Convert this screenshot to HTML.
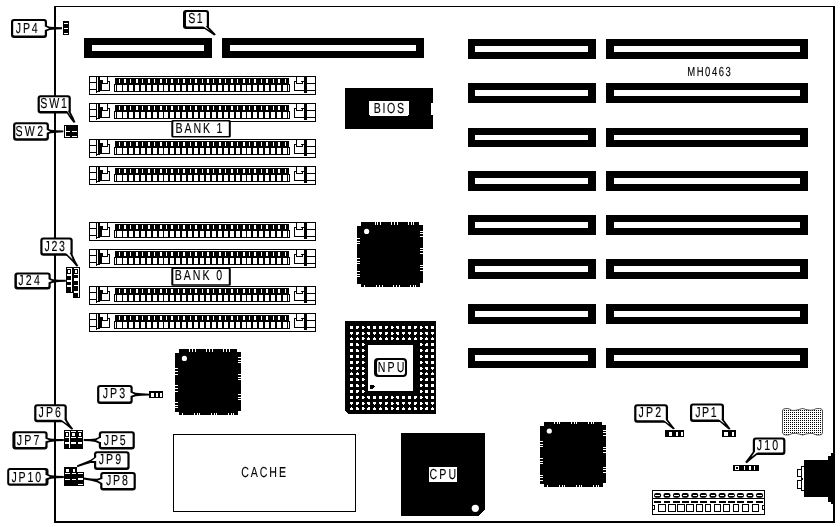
<!DOCTYPE html>
<html lang="en">
<head>
<meta charset="utf-8">
<title>MH0463 motherboard layout</title>
<style>
html,body{margin:0;padding:0;background:#fff;}
body{width:840px;height:527px;overflow:hidden;}
svg{display:block;}
.t{font-family:"Liberation Sans",sans-serif;fill:#000;stroke:#000;stroke-width:0.12px;}
svg{will-change:transform;}
</style>
</head>
<body>
<svg width="840" height="527" viewBox="0 0 840 527" shape-rendering="crispEdges" text-rendering="geometricPrecision">
<defs>
<pattern id="dots" x="0" y="0" width="2" height="2" patternUnits="userSpaceOnUse">
<rect x="0" y="0" width="2" height="2" fill="#fff"/>
<rect x="0" y="0" width="1" height="1" fill="#000"/>
</pattern>
</defs>
<rect x="0" y="0" width="840" height="527" fill="#fff"/>
<rect x="54" y="6" width="781" height="1" fill="#000" />
<rect x="54" y="6" width="2" height="517" fill="#000" />
<rect x="833" y="6" width="2" height="517" fill="#000" />
<rect x="54" y="521" width="781" height="2" fill="#000" />
<rect x="84" y="38" width="128" height="20" fill="#000" />
<rect x="92" y="45" width="112" height="6" fill="#fff" />
<rect x="222" y="38" width="202" height="20" fill="#000" />
<rect x="230" y="45" width="186" height="6" fill="#fff" />
<rect x="468" y="39" width="128" height="20" fill="#000" />
<rect x="475" y="46" width="113" height="6" fill="#fff" />
<rect x="606" y="39" width="202" height="20" fill="#000" />
<rect x="614" y="46" width="186" height="6" fill="#fff" />
<rect x="468" y="83" width="128" height="20" fill="#000" />
<rect x="475" y="90" width="113" height="6" fill="#fff" />
<rect x="606" y="83" width="202" height="20" fill="#000" />
<rect x="614" y="90" width="186" height="6" fill="#fff" />
<rect x="468" y="128" width="128" height="19" fill="#000" />
<rect x="475" y="135" width="113" height="5" fill="#fff" />
<rect x="606" y="128" width="202" height="19" fill="#000" />
<rect x="614" y="135" width="186" height="5" fill="#fff" />
<rect x="468" y="171" width="128" height="20" fill="#000" />
<rect x="475" y="178" width="113" height="6" fill="#fff" />
<rect x="606" y="171" width="202" height="20" fill="#000" />
<rect x="614" y="178" width="186" height="6" fill="#fff" />
<rect x="468" y="215" width="128" height="20" fill="#000" />
<rect x="475" y="222" width="113" height="6" fill="#fff" />
<rect x="606" y="215" width="202" height="20" fill="#000" />
<rect x="614" y="222" width="186" height="6" fill="#fff" />
<rect x="468" y="259" width="128" height="20" fill="#000" />
<rect x="475" y="266" width="113" height="6" fill="#fff" />
<rect x="606" y="259" width="202" height="20" fill="#000" />
<rect x="614" y="266" width="186" height="6" fill="#fff" />
<rect x="468" y="304" width="128" height="20" fill="#000" />
<rect x="475" y="311" width="113" height="6" fill="#fff" />
<rect x="606" y="304" width="202" height="20" fill="#000" />
<rect x="614" y="311" width="186" height="6" fill="#fff" />
<rect x="468" y="348" width="128" height="20" fill="#000" />
<rect x="475" y="355" width="113" height="6" fill="#fff" />
<rect x="606" y="348" width="202" height="20" fill="#000" />
<rect x="614" y="355" width="186" height="6" fill="#fff" />
<rect x="89.5" y="76.5" width="226" height="18" fill="#fff" stroke="#000" stroke-width="1"/>
<rect x="89" y="82" width="7" height="1" fill="#000" />
<rect x="89" y="89" width="7" height="1" fill="#000" />
<rect x="96" y="76" width="1" height="16.5" fill="#000" />
<rect x="98" y="77" width="2" height="15" fill="#000" />
<rect x="100" y="80" width="2" height="11" fill="#000" />
<rect x="96" y="91" width="4" height="1.4" fill="#000" />
<rect x="101" y="80" width="2" height="1" fill="#000" />
<rect x="102" y="81" width="1" height="3" fill="#000" />
<rect x="102" y="83" width="6" height="1" fill="#000" />
<rect x="107" y="77" width="1" height="7" fill="#000" />
<rect x="108" y="81" width="2" height="1" fill="#000" />
<rect x="109" y="81" width="1" height="10" fill="#000" />
<rect x="101" y="90" width="9" height="1" fill="#000" />
<rect x="115" y="78" width="174" height="7" fill="#000" />
<rect x="114" y="84" width="176" height="8" fill="#000" />
<rect x="115" y="85" width="1" height="6" fill="#fff" />
<rect x="117" y="85" width="5" height="6" fill="#fff" />
<rect x="118.5" y="79" width="1" height="4" fill="#fff" />
<rect x="122.93" y="85" width="4" height="6" fill="#fff" />
<rect x="123.93" y="79" width="2" height="4" fill="#fff" />
<rect x="128.86" y="85" width="4" height="6" fill="#fff" />
<rect x="130.36" y="79" width="1" height="4" fill="#fff" />
<rect x="134.79" y="85" width="4" height="6" fill="#fff" />
<rect x="135.79" y="79" width="2" height="4" fill="#fff" />
<rect x="140.72" y="85" width="4" height="6" fill="#fff" />
<rect x="142.22" y="79" width="1" height="4" fill="#fff" />
<rect x="146.65" y="85" width="4" height="6" fill="#fff" />
<rect x="147.65" y="79" width="2" height="4" fill="#fff" />
<rect x="152.58" y="85" width="4" height="6" fill="#fff" />
<rect x="154.08" y="79" width="1" height="4" fill="#fff" />
<rect x="158.51" y="85" width="4" height="6" fill="#fff" />
<rect x="159.51" y="79" width="2" height="4" fill="#fff" />
<rect x="164.44" y="85" width="4" height="6" fill="#fff" />
<rect x="165.94" y="79" width="1" height="4" fill="#fff" />
<rect x="170.37" y="85" width="4" height="6" fill="#fff" />
<rect x="171.37" y="79" width="2" height="4" fill="#fff" />
<rect x="176.3" y="85" width="4" height="6" fill="#fff" />
<rect x="177.8" y="79" width="1" height="4" fill="#fff" />
<rect x="182.23" y="85" width="4" height="6" fill="#fff" />
<rect x="183.23" y="79" width="2" height="4" fill="#fff" />
<rect x="188.16" y="85" width="4" height="6" fill="#fff" />
<rect x="189.66" y="79" width="1" height="4" fill="#fff" />
<rect x="194.09" y="85" width="4" height="6" fill="#fff" />
<rect x="195.09" y="79" width="2" height="4" fill="#fff" />
<rect x="200.02" y="85" width="4" height="6" fill="#fff" />
<rect x="201.52" y="79" width="1" height="4" fill="#fff" />
<rect x="205.95" y="85" width="4" height="6" fill="#fff" />
<rect x="206.95" y="79" width="2" height="4" fill="#fff" />
<rect x="211.88" y="85" width="4" height="6" fill="#fff" />
<rect x="213.38" y="79" width="1" height="4" fill="#fff" />
<rect x="217.81" y="85" width="4" height="6" fill="#fff" />
<rect x="218.81" y="79" width="2" height="4" fill="#fff" />
<rect x="223.74" y="85" width="4" height="6" fill="#fff" />
<rect x="225.24" y="79" width="1" height="4" fill="#fff" />
<rect x="229.67" y="85" width="4" height="6" fill="#fff" />
<rect x="230.67" y="79" width="2" height="4" fill="#fff" />
<rect x="235.6" y="85" width="4" height="6" fill="#fff" />
<rect x="237.1" y="79" width="1" height="4" fill="#fff" />
<rect x="241.53" y="85" width="4" height="6" fill="#fff" />
<rect x="242.53" y="79" width="2" height="4" fill="#fff" />
<rect x="247.46" y="85" width="4" height="6" fill="#fff" />
<rect x="248.96" y="79" width="1" height="4" fill="#fff" />
<rect x="253.39" y="85" width="4" height="6" fill="#fff" />
<rect x="254.39" y="79" width="2" height="4" fill="#fff" />
<rect x="259.32" y="85" width="4" height="6" fill="#fff" />
<rect x="260.82" y="79" width="1" height="4" fill="#fff" />
<rect x="265.25" y="85" width="4" height="6" fill="#fff" />
<rect x="266.25" y="79" width="2" height="4" fill="#fff" />
<rect x="271.18" y="85" width="4" height="6" fill="#fff" />
<rect x="272.68" y="79" width="1" height="4" fill="#fff" />
<rect x="277.11" y="85" width="4" height="6" fill="#fff" />
<rect x="278.11" y="79" width="2" height="4" fill="#fff" />
<rect x="283.04" y="85" width="4" height="6" fill="#fff" />
<rect x="284.54" y="79" width="1" height="4" fill="#fff" />
<rect x="288" y="85" width="1" height="6" fill="#fff" />
<rect x="304" y="77" width="3" height="16" fill="#000" />
<rect x="294" y="81" width="1" height="10" fill="#000" />
<rect x="294" y="81" width="3" height="1" fill="#000" />
<rect x="296" y="77" width="1" height="7" fill="#000" />
<rect x="296" y="83" width="7" height="1" fill="#000" />
<rect x="302" y="81" width="1" height="3" fill="#000" />
<rect x="301" y="81" width="3" height="1" fill="#000" />
<rect x="294" y="90" width="10" height="1" fill="#000" />
<rect x="307" y="83" width="9" height="1" fill="#000" />
<rect x="307" y="90" width="9" height="1" fill="#000" />
<rect x="89.5" y="103.5" width="226" height="18" fill="#fff" stroke="#000" stroke-width="1"/>
<rect x="89" y="109" width="7" height="1" fill="#000" />
<rect x="89" y="116" width="7" height="1" fill="#000" />
<rect x="96" y="103" width="1" height="16.5" fill="#000" />
<rect x="98" y="104" width="2" height="15" fill="#000" />
<rect x="100" y="107" width="2" height="11" fill="#000" />
<rect x="96" y="118" width="4" height="1.4" fill="#000" />
<rect x="101" y="107" width="2" height="1" fill="#000" />
<rect x="102" y="108" width="1" height="3" fill="#000" />
<rect x="102" y="110" width="6" height="1" fill="#000" />
<rect x="107" y="104" width="1" height="7" fill="#000" />
<rect x="108" y="108" width="2" height="1" fill="#000" />
<rect x="109" y="108" width="1" height="10" fill="#000" />
<rect x="101" y="117" width="9" height="1" fill="#000" />
<rect x="115" y="105" width="174" height="7" fill="#000" />
<rect x="114" y="111" width="176" height="8" fill="#000" />
<rect x="115" y="112" width="1" height="6" fill="#fff" />
<rect x="117" y="112" width="5" height="6" fill="#fff" />
<rect x="118.5" y="106" width="1" height="4" fill="#fff" />
<rect x="122.93" y="112" width="4" height="6" fill="#fff" />
<rect x="123.93" y="106" width="2" height="4" fill="#fff" />
<rect x="128.86" y="112" width="4" height="6" fill="#fff" />
<rect x="130.36" y="106" width="1" height="4" fill="#fff" />
<rect x="134.79" y="112" width="4" height="6" fill="#fff" />
<rect x="135.79" y="106" width="2" height="4" fill="#fff" />
<rect x="140.72" y="112" width="4" height="6" fill="#fff" />
<rect x="142.22" y="106" width="1" height="4" fill="#fff" />
<rect x="146.65" y="112" width="4" height="6" fill="#fff" />
<rect x="147.65" y="106" width="2" height="4" fill="#fff" />
<rect x="152.58" y="112" width="4" height="6" fill="#fff" />
<rect x="154.08" y="106" width="1" height="4" fill="#fff" />
<rect x="158.51" y="112" width="4" height="6" fill="#fff" />
<rect x="159.51" y="106" width="2" height="4" fill="#fff" />
<rect x="164.44" y="112" width="4" height="6" fill="#fff" />
<rect x="165.94" y="106" width="1" height="4" fill="#fff" />
<rect x="170.37" y="112" width="4" height="6" fill="#fff" />
<rect x="171.37" y="106" width="2" height="4" fill="#fff" />
<rect x="176.3" y="112" width="4" height="6" fill="#fff" />
<rect x="177.8" y="106" width="1" height="4" fill="#fff" />
<rect x="182.23" y="112" width="4" height="6" fill="#fff" />
<rect x="183.23" y="106" width="2" height="4" fill="#fff" />
<rect x="188.16" y="112" width="4" height="6" fill="#fff" />
<rect x="189.66" y="106" width="1" height="4" fill="#fff" />
<rect x="194.09" y="112" width="4" height="6" fill="#fff" />
<rect x="195.09" y="106" width="2" height="4" fill="#fff" />
<rect x="200.02" y="112" width="4" height="6" fill="#fff" />
<rect x="201.52" y="106" width="1" height="4" fill="#fff" />
<rect x="205.95" y="112" width="4" height="6" fill="#fff" />
<rect x="206.95" y="106" width="2" height="4" fill="#fff" />
<rect x="211.88" y="112" width="4" height="6" fill="#fff" />
<rect x="213.38" y="106" width="1" height="4" fill="#fff" />
<rect x="217.81" y="112" width="4" height="6" fill="#fff" />
<rect x="218.81" y="106" width="2" height="4" fill="#fff" />
<rect x="223.74" y="112" width="4" height="6" fill="#fff" />
<rect x="225.24" y="106" width="1" height="4" fill="#fff" />
<rect x="229.67" y="112" width="4" height="6" fill="#fff" />
<rect x="230.67" y="106" width="2" height="4" fill="#fff" />
<rect x="235.6" y="112" width="4" height="6" fill="#fff" />
<rect x="237.1" y="106" width="1" height="4" fill="#fff" />
<rect x="241.53" y="112" width="4" height="6" fill="#fff" />
<rect x="242.53" y="106" width="2" height="4" fill="#fff" />
<rect x="247.46" y="112" width="4" height="6" fill="#fff" />
<rect x="248.96" y="106" width="1" height="4" fill="#fff" />
<rect x="253.39" y="112" width="4" height="6" fill="#fff" />
<rect x="254.39" y="106" width="2" height="4" fill="#fff" />
<rect x="259.32" y="112" width="4" height="6" fill="#fff" />
<rect x="260.82" y="106" width="1" height="4" fill="#fff" />
<rect x="265.25" y="112" width="4" height="6" fill="#fff" />
<rect x="266.25" y="106" width="2" height="4" fill="#fff" />
<rect x="271.18" y="112" width="4" height="6" fill="#fff" />
<rect x="272.68" y="106" width="1" height="4" fill="#fff" />
<rect x="277.11" y="112" width="4" height="6" fill="#fff" />
<rect x="278.11" y="106" width="2" height="4" fill="#fff" />
<rect x="283.04" y="112" width="4" height="6" fill="#fff" />
<rect x="284.54" y="106" width="1" height="4" fill="#fff" />
<rect x="288" y="112" width="1" height="6" fill="#fff" />
<rect x="304" y="104" width="3" height="16" fill="#000" />
<rect x="294" y="108" width="1" height="10" fill="#000" />
<rect x="294" y="108" width="3" height="1" fill="#000" />
<rect x="296" y="104" width="1" height="7" fill="#000" />
<rect x="296" y="110" width="7" height="1" fill="#000" />
<rect x="302" y="108" width="1" height="3" fill="#000" />
<rect x="301" y="108" width="3" height="1" fill="#000" />
<rect x="294" y="117" width="10" height="1" fill="#000" />
<rect x="307" y="110" width="9" height="1" fill="#000" />
<rect x="307" y="117" width="9" height="1" fill="#000" />
<rect x="89.5" y="139.5" width="226" height="18" fill="#fff" stroke="#000" stroke-width="1"/>
<rect x="89" y="145" width="7" height="1" fill="#000" />
<rect x="89" y="152" width="7" height="1" fill="#000" />
<rect x="96" y="139" width="1" height="16.5" fill="#000" />
<rect x="98" y="140" width="2" height="15" fill="#000" />
<rect x="100" y="143" width="2" height="11" fill="#000" />
<rect x="96" y="154" width="4" height="1.4" fill="#000" />
<rect x="101" y="143" width="2" height="1" fill="#000" />
<rect x="102" y="144" width="1" height="3" fill="#000" />
<rect x="102" y="146" width="6" height="1" fill="#000" />
<rect x="107" y="140" width="1" height="7" fill="#000" />
<rect x="108" y="144" width="2" height="1" fill="#000" />
<rect x="109" y="144" width="1" height="10" fill="#000" />
<rect x="101" y="153" width="9" height="1" fill="#000" />
<rect x="115" y="141" width="174" height="7" fill="#000" />
<rect x="114" y="147" width="176" height="8" fill="#000" />
<rect x="115" y="148" width="1" height="6" fill="#fff" />
<rect x="117" y="148" width="5" height="6" fill="#fff" />
<rect x="118.5" y="142" width="1" height="4" fill="#fff" />
<rect x="122.93" y="148" width="4" height="6" fill="#fff" />
<rect x="123.93" y="142" width="2" height="4" fill="#fff" />
<rect x="128.86" y="148" width="4" height="6" fill="#fff" />
<rect x="130.36" y="142" width="1" height="4" fill="#fff" />
<rect x="134.79" y="148" width="4" height="6" fill="#fff" />
<rect x="135.79" y="142" width="2" height="4" fill="#fff" />
<rect x="140.72" y="148" width="4" height="6" fill="#fff" />
<rect x="142.22" y="142" width="1" height="4" fill="#fff" />
<rect x="146.65" y="148" width="4" height="6" fill="#fff" />
<rect x="147.65" y="142" width="2" height="4" fill="#fff" />
<rect x="152.58" y="148" width="4" height="6" fill="#fff" />
<rect x="154.08" y="142" width="1" height="4" fill="#fff" />
<rect x="158.51" y="148" width="4" height="6" fill="#fff" />
<rect x="159.51" y="142" width="2" height="4" fill="#fff" />
<rect x="164.44" y="148" width="4" height="6" fill="#fff" />
<rect x="165.94" y="142" width="1" height="4" fill="#fff" />
<rect x="170.37" y="148" width="4" height="6" fill="#fff" />
<rect x="171.37" y="142" width="2" height="4" fill="#fff" />
<rect x="176.3" y="148" width="4" height="6" fill="#fff" />
<rect x="177.8" y="142" width="1" height="4" fill="#fff" />
<rect x="182.23" y="148" width="4" height="6" fill="#fff" />
<rect x="183.23" y="142" width="2" height="4" fill="#fff" />
<rect x="188.16" y="148" width="4" height="6" fill="#fff" />
<rect x="189.66" y="142" width="1" height="4" fill="#fff" />
<rect x="194.09" y="148" width="4" height="6" fill="#fff" />
<rect x="195.09" y="142" width="2" height="4" fill="#fff" />
<rect x="200.02" y="148" width="4" height="6" fill="#fff" />
<rect x="201.52" y="142" width="1" height="4" fill="#fff" />
<rect x="205.95" y="148" width="4" height="6" fill="#fff" />
<rect x="206.95" y="142" width="2" height="4" fill="#fff" />
<rect x="211.88" y="148" width="4" height="6" fill="#fff" />
<rect x="213.38" y="142" width="1" height="4" fill="#fff" />
<rect x="217.81" y="148" width="4" height="6" fill="#fff" />
<rect x="218.81" y="142" width="2" height="4" fill="#fff" />
<rect x="223.74" y="148" width="4" height="6" fill="#fff" />
<rect x="225.24" y="142" width="1" height="4" fill="#fff" />
<rect x="229.67" y="148" width="4" height="6" fill="#fff" />
<rect x="230.67" y="142" width="2" height="4" fill="#fff" />
<rect x="235.6" y="148" width="4" height="6" fill="#fff" />
<rect x="237.1" y="142" width="1" height="4" fill="#fff" />
<rect x="241.53" y="148" width="4" height="6" fill="#fff" />
<rect x="242.53" y="142" width="2" height="4" fill="#fff" />
<rect x="247.46" y="148" width="4" height="6" fill="#fff" />
<rect x="248.96" y="142" width="1" height="4" fill="#fff" />
<rect x="253.39" y="148" width="4" height="6" fill="#fff" />
<rect x="254.39" y="142" width="2" height="4" fill="#fff" />
<rect x="259.32" y="148" width="4" height="6" fill="#fff" />
<rect x="260.82" y="142" width="1" height="4" fill="#fff" />
<rect x="265.25" y="148" width="4" height="6" fill="#fff" />
<rect x="266.25" y="142" width="2" height="4" fill="#fff" />
<rect x="271.18" y="148" width="4" height="6" fill="#fff" />
<rect x="272.68" y="142" width="1" height="4" fill="#fff" />
<rect x="277.11" y="148" width="4" height="6" fill="#fff" />
<rect x="278.11" y="142" width="2" height="4" fill="#fff" />
<rect x="283.04" y="148" width="4" height="6" fill="#fff" />
<rect x="284.54" y="142" width="1" height="4" fill="#fff" />
<rect x="288" y="148" width="1" height="6" fill="#fff" />
<rect x="304" y="140" width="3" height="16" fill="#000" />
<rect x="294" y="144" width="1" height="10" fill="#000" />
<rect x="294" y="144" width="3" height="1" fill="#000" />
<rect x="296" y="140" width="1" height="7" fill="#000" />
<rect x="296" y="146" width="7" height="1" fill="#000" />
<rect x="302" y="144" width="1" height="3" fill="#000" />
<rect x="301" y="144" width="3" height="1" fill="#000" />
<rect x="294" y="153" width="10" height="1" fill="#000" />
<rect x="307" y="146" width="9" height="1" fill="#000" />
<rect x="307" y="153" width="9" height="1" fill="#000" />
<rect x="89.5" y="166.5" width="226" height="18" fill="#fff" stroke="#000" stroke-width="1"/>
<rect x="89" y="172" width="7" height="1" fill="#000" />
<rect x="89" y="179" width="7" height="1" fill="#000" />
<rect x="96" y="166" width="1" height="16.5" fill="#000" />
<rect x="98" y="167" width="2" height="15" fill="#000" />
<rect x="100" y="170" width="2" height="11" fill="#000" />
<rect x="96" y="181" width="4" height="1.4" fill="#000" />
<rect x="101" y="170" width="2" height="1" fill="#000" />
<rect x="102" y="171" width="1" height="3" fill="#000" />
<rect x="102" y="173" width="6" height="1" fill="#000" />
<rect x="107" y="167" width="1" height="7" fill="#000" />
<rect x="108" y="171" width="2" height="1" fill="#000" />
<rect x="109" y="171" width="1" height="10" fill="#000" />
<rect x="101" y="180" width="9" height="1" fill="#000" />
<rect x="115" y="168" width="174" height="7" fill="#000" />
<rect x="114" y="174" width="176" height="8" fill="#000" />
<rect x="115" y="175" width="1" height="6" fill="#fff" />
<rect x="117" y="175" width="5" height="6" fill="#fff" />
<rect x="118.5" y="169" width="1" height="4" fill="#fff" />
<rect x="122.93" y="175" width="4" height="6" fill="#fff" />
<rect x="123.93" y="169" width="2" height="4" fill="#fff" />
<rect x="128.86" y="175" width="4" height="6" fill="#fff" />
<rect x="130.36" y="169" width="1" height="4" fill="#fff" />
<rect x="134.79" y="175" width="4" height="6" fill="#fff" />
<rect x="135.79" y="169" width="2" height="4" fill="#fff" />
<rect x="140.72" y="175" width="4" height="6" fill="#fff" />
<rect x="142.22" y="169" width="1" height="4" fill="#fff" />
<rect x="146.65" y="175" width="4" height="6" fill="#fff" />
<rect x="147.65" y="169" width="2" height="4" fill="#fff" />
<rect x="152.58" y="175" width="4" height="6" fill="#fff" />
<rect x="154.08" y="169" width="1" height="4" fill="#fff" />
<rect x="158.51" y="175" width="4" height="6" fill="#fff" />
<rect x="159.51" y="169" width="2" height="4" fill="#fff" />
<rect x="164.44" y="175" width="4" height="6" fill="#fff" />
<rect x="165.94" y="169" width="1" height="4" fill="#fff" />
<rect x="170.37" y="175" width="4" height="6" fill="#fff" />
<rect x="171.37" y="169" width="2" height="4" fill="#fff" />
<rect x="176.3" y="175" width="4" height="6" fill="#fff" />
<rect x="177.8" y="169" width="1" height="4" fill="#fff" />
<rect x="182.23" y="175" width="4" height="6" fill="#fff" />
<rect x="183.23" y="169" width="2" height="4" fill="#fff" />
<rect x="188.16" y="175" width="4" height="6" fill="#fff" />
<rect x="189.66" y="169" width="1" height="4" fill="#fff" />
<rect x="194.09" y="175" width="4" height="6" fill="#fff" />
<rect x="195.09" y="169" width="2" height="4" fill="#fff" />
<rect x="200.02" y="175" width="4" height="6" fill="#fff" />
<rect x="201.52" y="169" width="1" height="4" fill="#fff" />
<rect x="205.95" y="175" width="4" height="6" fill="#fff" />
<rect x="206.95" y="169" width="2" height="4" fill="#fff" />
<rect x="211.88" y="175" width="4" height="6" fill="#fff" />
<rect x="213.38" y="169" width="1" height="4" fill="#fff" />
<rect x="217.81" y="175" width="4" height="6" fill="#fff" />
<rect x="218.81" y="169" width="2" height="4" fill="#fff" />
<rect x="223.74" y="175" width="4" height="6" fill="#fff" />
<rect x="225.24" y="169" width="1" height="4" fill="#fff" />
<rect x="229.67" y="175" width="4" height="6" fill="#fff" />
<rect x="230.67" y="169" width="2" height="4" fill="#fff" />
<rect x="235.6" y="175" width="4" height="6" fill="#fff" />
<rect x="237.1" y="169" width="1" height="4" fill="#fff" />
<rect x="241.53" y="175" width="4" height="6" fill="#fff" />
<rect x="242.53" y="169" width="2" height="4" fill="#fff" />
<rect x="247.46" y="175" width="4" height="6" fill="#fff" />
<rect x="248.96" y="169" width="1" height="4" fill="#fff" />
<rect x="253.39" y="175" width="4" height="6" fill="#fff" />
<rect x="254.39" y="169" width="2" height="4" fill="#fff" />
<rect x="259.32" y="175" width="4" height="6" fill="#fff" />
<rect x="260.82" y="169" width="1" height="4" fill="#fff" />
<rect x="265.25" y="175" width="4" height="6" fill="#fff" />
<rect x="266.25" y="169" width="2" height="4" fill="#fff" />
<rect x="271.18" y="175" width="4" height="6" fill="#fff" />
<rect x="272.68" y="169" width="1" height="4" fill="#fff" />
<rect x="277.11" y="175" width="4" height="6" fill="#fff" />
<rect x="278.11" y="169" width="2" height="4" fill="#fff" />
<rect x="283.04" y="175" width="4" height="6" fill="#fff" />
<rect x="284.54" y="169" width="1" height="4" fill="#fff" />
<rect x="288" y="175" width="1" height="6" fill="#fff" />
<rect x="304" y="167" width="3" height="16" fill="#000" />
<rect x="294" y="171" width="1" height="10" fill="#000" />
<rect x="294" y="171" width="3" height="1" fill="#000" />
<rect x="296" y="167" width="1" height="7" fill="#000" />
<rect x="296" y="173" width="7" height="1" fill="#000" />
<rect x="302" y="171" width="1" height="3" fill="#000" />
<rect x="301" y="171" width="3" height="1" fill="#000" />
<rect x="294" y="180" width="10" height="1" fill="#000" />
<rect x="307" y="173" width="9" height="1" fill="#000" />
<rect x="307" y="180" width="9" height="1" fill="#000" />
<rect x="89.5" y="222.5" width="226" height="18" fill="#fff" stroke="#000" stroke-width="1"/>
<rect x="89" y="228" width="7" height="1" fill="#000" />
<rect x="89" y="235" width="7" height="1" fill="#000" />
<rect x="96" y="222" width="1" height="16.5" fill="#000" />
<rect x="98" y="223" width="2" height="15" fill="#000" />
<rect x="100" y="226" width="2" height="11" fill="#000" />
<rect x="96" y="237" width="4" height="1.4" fill="#000" />
<rect x="101" y="226" width="2" height="1" fill="#000" />
<rect x="102" y="227" width="1" height="3" fill="#000" />
<rect x="102" y="229" width="6" height="1" fill="#000" />
<rect x="107" y="223" width="1" height="7" fill="#000" />
<rect x="108" y="227" width="2" height="1" fill="#000" />
<rect x="109" y="227" width="1" height="10" fill="#000" />
<rect x="101" y="236" width="9" height="1" fill="#000" />
<rect x="115" y="224" width="174" height="7" fill="#000" />
<rect x="114" y="230" width="176" height="8" fill="#000" />
<rect x="115" y="231" width="1" height="6" fill="#fff" />
<rect x="117" y="231" width="5" height="6" fill="#fff" />
<rect x="118.5" y="225" width="1" height="4" fill="#fff" />
<rect x="122.93" y="231" width="4" height="6" fill="#fff" />
<rect x="123.93" y="225" width="2" height="4" fill="#fff" />
<rect x="128.86" y="231" width="4" height="6" fill="#fff" />
<rect x="130.36" y="225" width="1" height="4" fill="#fff" />
<rect x="134.79" y="231" width="4" height="6" fill="#fff" />
<rect x="135.79" y="225" width="2" height="4" fill="#fff" />
<rect x="140.72" y="231" width="4" height="6" fill="#fff" />
<rect x="142.22" y="225" width="1" height="4" fill="#fff" />
<rect x="146.65" y="231" width="4" height="6" fill="#fff" />
<rect x="147.65" y="225" width="2" height="4" fill="#fff" />
<rect x="152.58" y="231" width="4" height="6" fill="#fff" />
<rect x="154.08" y="225" width="1" height="4" fill="#fff" />
<rect x="158.51" y="231" width="4" height="6" fill="#fff" />
<rect x="159.51" y="225" width="2" height="4" fill="#fff" />
<rect x="164.44" y="231" width="4" height="6" fill="#fff" />
<rect x="165.94" y="225" width="1" height="4" fill="#fff" />
<rect x="170.37" y="231" width="4" height="6" fill="#fff" />
<rect x="171.37" y="225" width="2" height="4" fill="#fff" />
<rect x="176.3" y="231" width="4" height="6" fill="#fff" />
<rect x="177.8" y="225" width="1" height="4" fill="#fff" />
<rect x="182.23" y="231" width="4" height="6" fill="#fff" />
<rect x="183.23" y="225" width="2" height="4" fill="#fff" />
<rect x="188.16" y="231" width="4" height="6" fill="#fff" />
<rect x="189.66" y="225" width="1" height="4" fill="#fff" />
<rect x="194.09" y="231" width="4" height="6" fill="#fff" />
<rect x="195.09" y="225" width="2" height="4" fill="#fff" />
<rect x="200.02" y="231" width="4" height="6" fill="#fff" />
<rect x="201.52" y="225" width="1" height="4" fill="#fff" />
<rect x="205.95" y="231" width="4" height="6" fill="#fff" />
<rect x="206.95" y="225" width="2" height="4" fill="#fff" />
<rect x="211.88" y="231" width="4" height="6" fill="#fff" />
<rect x="213.38" y="225" width="1" height="4" fill="#fff" />
<rect x="217.81" y="231" width="4" height="6" fill="#fff" />
<rect x="218.81" y="225" width="2" height="4" fill="#fff" />
<rect x="223.74" y="231" width="4" height="6" fill="#fff" />
<rect x="225.24" y="225" width="1" height="4" fill="#fff" />
<rect x="229.67" y="231" width="4" height="6" fill="#fff" />
<rect x="230.67" y="225" width="2" height="4" fill="#fff" />
<rect x="235.6" y="231" width="4" height="6" fill="#fff" />
<rect x="237.1" y="225" width="1" height="4" fill="#fff" />
<rect x="241.53" y="231" width="4" height="6" fill="#fff" />
<rect x="242.53" y="225" width="2" height="4" fill="#fff" />
<rect x="247.46" y="231" width="4" height="6" fill="#fff" />
<rect x="248.96" y="225" width="1" height="4" fill="#fff" />
<rect x="253.39" y="231" width="4" height="6" fill="#fff" />
<rect x="254.39" y="225" width="2" height="4" fill="#fff" />
<rect x="259.32" y="231" width="4" height="6" fill="#fff" />
<rect x="260.82" y="225" width="1" height="4" fill="#fff" />
<rect x="265.25" y="231" width="4" height="6" fill="#fff" />
<rect x="266.25" y="225" width="2" height="4" fill="#fff" />
<rect x="271.18" y="231" width="4" height="6" fill="#fff" />
<rect x="272.68" y="225" width="1" height="4" fill="#fff" />
<rect x="277.11" y="231" width="4" height="6" fill="#fff" />
<rect x="278.11" y="225" width="2" height="4" fill="#fff" />
<rect x="283.04" y="231" width="4" height="6" fill="#fff" />
<rect x="284.54" y="225" width="1" height="4" fill="#fff" />
<rect x="288" y="231" width="1" height="6" fill="#fff" />
<rect x="304" y="223" width="3" height="16" fill="#000" />
<rect x="294" y="227" width="1" height="10" fill="#000" />
<rect x="294" y="227" width="3" height="1" fill="#000" />
<rect x="296" y="223" width="1" height="7" fill="#000" />
<rect x="296" y="229" width="7" height="1" fill="#000" />
<rect x="302" y="227" width="1" height="3" fill="#000" />
<rect x="301" y="227" width="3" height="1" fill="#000" />
<rect x="294" y="236" width="10" height="1" fill="#000" />
<rect x="307" y="229" width="9" height="1" fill="#000" />
<rect x="307" y="236" width="9" height="1" fill="#000" />
<rect x="89.5" y="249.5" width="226" height="18" fill="#fff" stroke="#000" stroke-width="1"/>
<rect x="89" y="255" width="7" height="1" fill="#000" />
<rect x="89" y="262" width="7" height="1" fill="#000" />
<rect x="96" y="249" width="1" height="16.5" fill="#000" />
<rect x="98" y="250" width="2" height="15" fill="#000" />
<rect x="100" y="253" width="2" height="11" fill="#000" />
<rect x="96" y="264" width="4" height="1.4" fill="#000" />
<rect x="101" y="253" width="2" height="1" fill="#000" />
<rect x="102" y="254" width="1" height="3" fill="#000" />
<rect x="102" y="256" width="6" height="1" fill="#000" />
<rect x="107" y="250" width="1" height="7" fill="#000" />
<rect x="108" y="254" width="2" height="1" fill="#000" />
<rect x="109" y="254" width="1" height="10" fill="#000" />
<rect x="101" y="263" width="9" height="1" fill="#000" />
<rect x="115" y="251" width="174" height="7" fill="#000" />
<rect x="114" y="257" width="176" height="8" fill="#000" />
<rect x="115" y="258" width="1" height="6" fill="#fff" />
<rect x="117" y="258" width="5" height="6" fill="#fff" />
<rect x="118.5" y="252" width="1" height="4" fill="#fff" />
<rect x="122.93" y="258" width="4" height="6" fill="#fff" />
<rect x="123.93" y="252" width="2" height="4" fill="#fff" />
<rect x="128.86" y="258" width="4" height="6" fill="#fff" />
<rect x="130.36" y="252" width="1" height="4" fill="#fff" />
<rect x="134.79" y="258" width="4" height="6" fill="#fff" />
<rect x="135.79" y="252" width="2" height="4" fill="#fff" />
<rect x="140.72" y="258" width="4" height="6" fill="#fff" />
<rect x="142.22" y="252" width="1" height="4" fill="#fff" />
<rect x="146.65" y="258" width="4" height="6" fill="#fff" />
<rect x="147.65" y="252" width="2" height="4" fill="#fff" />
<rect x="152.58" y="258" width="4" height="6" fill="#fff" />
<rect x="154.08" y="252" width="1" height="4" fill="#fff" />
<rect x="158.51" y="258" width="4" height="6" fill="#fff" />
<rect x="159.51" y="252" width="2" height="4" fill="#fff" />
<rect x="164.44" y="258" width="4" height="6" fill="#fff" />
<rect x="165.94" y="252" width="1" height="4" fill="#fff" />
<rect x="170.37" y="258" width="4" height="6" fill="#fff" />
<rect x="171.37" y="252" width="2" height="4" fill="#fff" />
<rect x="176.3" y="258" width="4" height="6" fill="#fff" />
<rect x="177.8" y="252" width="1" height="4" fill="#fff" />
<rect x="182.23" y="258" width="4" height="6" fill="#fff" />
<rect x="183.23" y="252" width="2" height="4" fill="#fff" />
<rect x="188.16" y="258" width="4" height="6" fill="#fff" />
<rect x="189.66" y="252" width="1" height="4" fill="#fff" />
<rect x="194.09" y="258" width="4" height="6" fill="#fff" />
<rect x="195.09" y="252" width="2" height="4" fill="#fff" />
<rect x="200.02" y="258" width="4" height="6" fill="#fff" />
<rect x="201.52" y="252" width="1" height="4" fill="#fff" />
<rect x="205.95" y="258" width="4" height="6" fill="#fff" />
<rect x="206.95" y="252" width="2" height="4" fill="#fff" />
<rect x="211.88" y="258" width="4" height="6" fill="#fff" />
<rect x="213.38" y="252" width="1" height="4" fill="#fff" />
<rect x="217.81" y="258" width="4" height="6" fill="#fff" />
<rect x="218.81" y="252" width="2" height="4" fill="#fff" />
<rect x="223.74" y="258" width="4" height="6" fill="#fff" />
<rect x="225.24" y="252" width="1" height="4" fill="#fff" />
<rect x="229.67" y="258" width="4" height="6" fill="#fff" />
<rect x="230.67" y="252" width="2" height="4" fill="#fff" />
<rect x="235.6" y="258" width="4" height="6" fill="#fff" />
<rect x="237.1" y="252" width="1" height="4" fill="#fff" />
<rect x="241.53" y="258" width="4" height="6" fill="#fff" />
<rect x="242.53" y="252" width="2" height="4" fill="#fff" />
<rect x="247.46" y="258" width="4" height="6" fill="#fff" />
<rect x="248.96" y="252" width="1" height="4" fill="#fff" />
<rect x="253.39" y="258" width="4" height="6" fill="#fff" />
<rect x="254.39" y="252" width="2" height="4" fill="#fff" />
<rect x="259.32" y="258" width="4" height="6" fill="#fff" />
<rect x="260.82" y="252" width="1" height="4" fill="#fff" />
<rect x="265.25" y="258" width="4" height="6" fill="#fff" />
<rect x="266.25" y="252" width="2" height="4" fill="#fff" />
<rect x="271.18" y="258" width="4" height="6" fill="#fff" />
<rect x="272.68" y="252" width="1" height="4" fill="#fff" />
<rect x="277.11" y="258" width="4" height="6" fill="#fff" />
<rect x="278.11" y="252" width="2" height="4" fill="#fff" />
<rect x="283.04" y="258" width="4" height="6" fill="#fff" />
<rect x="284.54" y="252" width="1" height="4" fill="#fff" />
<rect x="288" y="258" width="1" height="6" fill="#fff" />
<rect x="304" y="250" width="3" height="16" fill="#000" />
<rect x="294" y="254" width="1" height="10" fill="#000" />
<rect x="294" y="254" width="3" height="1" fill="#000" />
<rect x="296" y="250" width="1" height="7" fill="#000" />
<rect x="296" y="256" width="7" height="1" fill="#000" />
<rect x="302" y="254" width="1" height="3" fill="#000" />
<rect x="301" y="254" width="3" height="1" fill="#000" />
<rect x="294" y="263" width="10" height="1" fill="#000" />
<rect x="307" y="256" width="9" height="1" fill="#000" />
<rect x="307" y="263" width="9" height="1" fill="#000" />
<rect x="89.5" y="286.5" width="226" height="18" fill="#fff" stroke="#000" stroke-width="1"/>
<rect x="89" y="292" width="7" height="1" fill="#000" />
<rect x="89" y="299" width="7" height="1" fill="#000" />
<rect x="96" y="286" width="1" height="16.5" fill="#000" />
<rect x="98" y="287" width="2" height="15" fill="#000" />
<rect x="100" y="290" width="2" height="11" fill="#000" />
<rect x="96" y="301" width="4" height="1.4" fill="#000" />
<rect x="101" y="290" width="2" height="1" fill="#000" />
<rect x="102" y="291" width="1" height="3" fill="#000" />
<rect x="102" y="293" width="6" height="1" fill="#000" />
<rect x="107" y="287" width="1" height="7" fill="#000" />
<rect x="108" y="291" width="2" height="1" fill="#000" />
<rect x="109" y="291" width="1" height="10" fill="#000" />
<rect x="101" y="300" width="9" height="1" fill="#000" />
<rect x="115" y="288" width="174" height="7" fill="#000" />
<rect x="114" y="294" width="176" height="8" fill="#000" />
<rect x="115" y="295" width="1" height="6" fill="#fff" />
<rect x="117" y="295" width="5" height="6" fill="#fff" />
<rect x="118.5" y="289" width="1" height="4" fill="#fff" />
<rect x="122.93" y="295" width="4" height="6" fill="#fff" />
<rect x="123.93" y="289" width="2" height="4" fill="#fff" />
<rect x="128.86" y="295" width="4" height="6" fill="#fff" />
<rect x="130.36" y="289" width="1" height="4" fill="#fff" />
<rect x="134.79" y="295" width="4" height="6" fill="#fff" />
<rect x="135.79" y="289" width="2" height="4" fill="#fff" />
<rect x="140.72" y="295" width="4" height="6" fill="#fff" />
<rect x="142.22" y="289" width="1" height="4" fill="#fff" />
<rect x="146.65" y="295" width="4" height="6" fill="#fff" />
<rect x="147.65" y="289" width="2" height="4" fill="#fff" />
<rect x="152.58" y="295" width="4" height="6" fill="#fff" />
<rect x="154.08" y="289" width="1" height="4" fill="#fff" />
<rect x="158.51" y="295" width="4" height="6" fill="#fff" />
<rect x="159.51" y="289" width="2" height="4" fill="#fff" />
<rect x="164.44" y="295" width="4" height="6" fill="#fff" />
<rect x="165.94" y="289" width="1" height="4" fill="#fff" />
<rect x="170.37" y="295" width="4" height="6" fill="#fff" />
<rect x="171.37" y="289" width="2" height="4" fill="#fff" />
<rect x="176.3" y="295" width="4" height="6" fill="#fff" />
<rect x="177.8" y="289" width="1" height="4" fill="#fff" />
<rect x="182.23" y="295" width="4" height="6" fill="#fff" />
<rect x="183.23" y="289" width="2" height="4" fill="#fff" />
<rect x="188.16" y="295" width="4" height="6" fill="#fff" />
<rect x="189.66" y="289" width="1" height="4" fill="#fff" />
<rect x="194.09" y="295" width="4" height="6" fill="#fff" />
<rect x="195.09" y="289" width="2" height="4" fill="#fff" />
<rect x="200.02" y="295" width="4" height="6" fill="#fff" />
<rect x="201.52" y="289" width="1" height="4" fill="#fff" />
<rect x="205.95" y="295" width="4" height="6" fill="#fff" />
<rect x="206.95" y="289" width="2" height="4" fill="#fff" />
<rect x="211.88" y="295" width="4" height="6" fill="#fff" />
<rect x="213.38" y="289" width="1" height="4" fill="#fff" />
<rect x="217.81" y="295" width="4" height="6" fill="#fff" />
<rect x="218.81" y="289" width="2" height="4" fill="#fff" />
<rect x="223.74" y="295" width="4" height="6" fill="#fff" />
<rect x="225.24" y="289" width="1" height="4" fill="#fff" />
<rect x="229.67" y="295" width="4" height="6" fill="#fff" />
<rect x="230.67" y="289" width="2" height="4" fill="#fff" />
<rect x="235.6" y="295" width="4" height="6" fill="#fff" />
<rect x="237.1" y="289" width="1" height="4" fill="#fff" />
<rect x="241.53" y="295" width="4" height="6" fill="#fff" />
<rect x="242.53" y="289" width="2" height="4" fill="#fff" />
<rect x="247.46" y="295" width="4" height="6" fill="#fff" />
<rect x="248.96" y="289" width="1" height="4" fill="#fff" />
<rect x="253.39" y="295" width="4" height="6" fill="#fff" />
<rect x="254.39" y="289" width="2" height="4" fill="#fff" />
<rect x="259.32" y="295" width="4" height="6" fill="#fff" />
<rect x="260.82" y="289" width="1" height="4" fill="#fff" />
<rect x="265.25" y="295" width="4" height="6" fill="#fff" />
<rect x="266.25" y="289" width="2" height="4" fill="#fff" />
<rect x="271.18" y="295" width="4" height="6" fill="#fff" />
<rect x="272.68" y="289" width="1" height="4" fill="#fff" />
<rect x="277.11" y="295" width="4" height="6" fill="#fff" />
<rect x="278.11" y="289" width="2" height="4" fill="#fff" />
<rect x="283.04" y="295" width="4" height="6" fill="#fff" />
<rect x="284.54" y="289" width="1" height="4" fill="#fff" />
<rect x="288" y="295" width="1" height="6" fill="#fff" />
<rect x="304" y="287" width="3" height="16" fill="#000" />
<rect x="294" y="291" width="1" height="10" fill="#000" />
<rect x="294" y="291" width="3" height="1" fill="#000" />
<rect x="296" y="287" width="1" height="7" fill="#000" />
<rect x="296" y="293" width="7" height="1" fill="#000" />
<rect x="302" y="291" width="1" height="3" fill="#000" />
<rect x="301" y="291" width="3" height="1" fill="#000" />
<rect x="294" y="300" width="10" height="1" fill="#000" />
<rect x="307" y="293" width="9" height="1" fill="#000" />
<rect x="307" y="300" width="9" height="1" fill="#000" />
<rect x="89.5" y="313.5" width="226" height="18" fill="#fff" stroke="#000" stroke-width="1"/>
<rect x="89" y="319" width="7" height="1" fill="#000" />
<rect x="89" y="326" width="7" height="1" fill="#000" />
<rect x="96" y="313" width="1" height="16.5" fill="#000" />
<rect x="98" y="314" width="2" height="15" fill="#000" />
<rect x="100" y="317" width="2" height="11" fill="#000" />
<rect x="96" y="328" width="4" height="1.4" fill="#000" />
<rect x="101" y="317" width="2" height="1" fill="#000" />
<rect x="102" y="318" width="1" height="3" fill="#000" />
<rect x="102" y="320" width="6" height="1" fill="#000" />
<rect x="107" y="314" width="1" height="7" fill="#000" />
<rect x="108" y="318" width="2" height="1" fill="#000" />
<rect x="109" y="318" width="1" height="10" fill="#000" />
<rect x="101" y="327" width="9" height="1" fill="#000" />
<rect x="115" y="315" width="174" height="7" fill="#000" />
<rect x="114" y="321" width="176" height="8" fill="#000" />
<rect x="115" y="322" width="1" height="6" fill="#fff" />
<rect x="117" y="322" width="5" height="6" fill="#fff" />
<rect x="118.5" y="316" width="1" height="4" fill="#fff" />
<rect x="122.93" y="322" width="4" height="6" fill="#fff" />
<rect x="123.93" y="316" width="2" height="4" fill="#fff" />
<rect x="128.86" y="322" width="4" height="6" fill="#fff" />
<rect x="130.36" y="316" width="1" height="4" fill="#fff" />
<rect x="134.79" y="322" width="4" height="6" fill="#fff" />
<rect x="135.79" y="316" width="2" height="4" fill="#fff" />
<rect x="140.72" y="322" width="4" height="6" fill="#fff" />
<rect x="142.22" y="316" width="1" height="4" fill="#fff" />
<rect x="146.65" y="322" width="4" height="6" fill="#fff" />
<rect x="147.65" y="316" width="2" height="4" fill="#fff" />
<rect x="152.58" y="322" width="4" height="6" fill="#fff" />
<rect x="154.08" y="316" width="1" height="4" fill="#fff" />
<rect x="158.51" y="322" width="4" height="6" fill="#fff" />
<rect x="159.51" y="316" width="2" height="4" fill="#fff" />
<rect x="164.44" y="322" width="4" height="6" fill="#fff" />
<rect x="165.94" y="316" width="1" height="4" fill="#fff" />
<rect x="170.37" y="322" width="4" height="6" fill="#fff" />
<rect x="171.37" y="316" width="2" height="4" fill="#fff" />
<rect x="176.3" y="322" width="4" height="6" fill="#fff" />
<rect x="177.8" y="316" width="1" height="4" fill="#fff" />
<rect x="182.23" y="322" width="4" height="6" fill="#fff" />
<rect x="183.23" y="316" width="2" height="4" fill="#fff" />
<rect x="188.16" y="322" width="4" height="6" fill="#fff" />
<rect x="189.66" y="316" width="1" height="4" fill="#fff" />
<rect x="194.09" y="322" width="4" height="6" fill="#fff" />
<rect x="195.09" y="316" width="2" height="4" fill="#fff" />
<rect x="200.02" y="322" width="4" height="6" fill="#fff" />
<rect x="201.52" y="316" width="1" height="4" fill="#fff" />
<rect x="205.95" y="322" width="4" height="6" fill="#fff" />
<rect x="206.95" y="316" width="2" height="4" fill="#fff" />
<rect x="211.88" y="322" width="4" height="6" fill="#fff" />
<rect x="213.38" y="316" width="1" height="4" fill="#fff" />
<rect x="217.81" y="322" width="4" height="6" fill="#fff" />
<rect x="218.81" y="316" width="2" height="4" fill="#fff" />
<rect x="223.74" y="322" width="4" height="6" fill="#fff" />
<rect x="225.24" y="316" width="1" height="4" fill="#fff" />
<rect x="229.67" y="322" width="4" height="6" fill="#fff" />
<rect x="230.67" y="316" width="2" height="4" fill="#fff" />
<rect x="235.6" y="322" width="4" height="6" fill="#fff" />
<rect x="237.1" y="316" width="1" height="4" fill="#fff" />
<rect x="241.53" y="322" width="4" height="6" fill="#fff" />
<rect x="242.53" y="316" width="2" height="4" fill="#fff" />
<rect x="247.46" y="322" width="4" height="6" fill="#fff" />
<rect x="248.96" y="316" width="1" height="4" fill="#fff" />
<rect x="253.39" y="322" width="4" height="6" fill="#fff" />
<rect x="254.39" y="316" width="2" height="4" fill="#fff" />
<rect x="259.32" y="322" width="4" height="6" fill="#fff" />
<rect x="260.82" y="316" width="1" height="4" fill="#fff" />
<rect x="265.25" y="322" width="4" height="6" fill="#fff" />
<rect x="266.25" y="316" width="2" height="4" fill="#fff" />
<rect x="271.18" y="322" width="4" height="6" fill="#fff" />
<rect x="272.68" y="316" width="1" height="4" fill="#fff" />
<rect x="277.11" y="322" width="4" height="6" fill="#fff" />
<rect x="278.11" y="316" width="2" height="4" fill="#fff" />
<rect x="283.04" y="322" width="4" height="6" fill="#fff" />
<rect x="284.54" y="316" width="1" height="4" fill="#fff" />
<rect x="288" y="322" width="1" height="6" fill="#fff" />
<rect x="304" y="314" width="3" height="16" fill="#000" />
<rect x="294" y="318" width="1" height="10" fill="#000" />
<rect x="294" y="318" width="3" height="1" fill="#000" />
<rect x="296" y="314" width="1" height="7" fill="#000" />
<rect x="296" y="320" width="7" height="1" fill="#000" />
<rect x="302" y="318" width="1" height="3" fill="#000" />
<rect x="301" y="318" width="3" height="1" fill="#000" />
<rect x="294" y="327" width="10" height="1" fill="#000" />
<rect x="307" y="320" width="9" height="1" fill="#000" />
<rect x="307" y="327" width="9" height="1" fill="#000" />
<rect x="345" y="88" width="88" height="41" fill="#000" />
<rect x="431" y="103" width="2" height="12" fill="#fff" />
<rect x="369" y="101" width="40" height="14.7" rx="1.5" fill="#fff"/>
<text class="t" transform="scale(0.73,1)" x="512.10" y="113" font-size="14.5" letter-spacing="2.22">BIOS</text>
<path d="M361 222H419V225H423V283H420V287H361V284H357V226H361Z" fill="#000"/>
<rect x="374.5" y="222" width="1" height="2.5" fill="#fff" />
<rect x="377.1" y="222" width="1" height="2.5" fill="#fff" />
<rect x="379.7" y="222" width="1" height="2.5" fill="#fff" />
<rect x="391.4" y="222" width="1" height="2.5" fill="#fff" />
<rect x="394" y="222" width="1" height="2.5" fill="#fff" />
<rect x="396.6" y="222" width="1" height="2.5" fill="#fff" />
<rect x="408" y="222" width="1" height="2.5" fill="#fff" />
<rect x="410.6" y="222" width="1" height="2.5" fill="#fff" />
<rect x="413.2" y="222" width="1" height="2.5" fill="#fff" />
<rect x="376.4" y="284.5" width="1" height="2.5" fill="#fff" />
<rect x="379" y="284.5" width="1" height="2.5" fill="#fff" />
<rect x="381.6" y="284.5" width="1" height="2.5" fill="#fff" />
<rect x="393.3" y="284.5" width="1" height="2.5" fill="#fff" />
<rect x="395.9" y="284.5" width="1" height="2.5" fill="#fff" />
<rect x="398.5" y="284.5" width="1" height="2.5" fill="#fff" />
<rect x="410.2" y="284.5" width="1" height="2.5" fill="#fff" />
<rect x="412.8" y="284.5" width="1" height="2.5" fill="#fff" />
<rect x="415.4" y="284.5" width="1" height="2.5" fill="#fff" />
<rect x="364" y="284.5" width="1" height="2.5" fill="#fff" />
<rect x="357" y="238.2" width="2.8" height="1" fill="#fff" />
<rect x="357" y="240.8" width="2.8" height="1" fill="#fff" />
<rect x="357" y="243.4" width="2.8" height="1" fill="#fff" />
<rect x="357" y="258" width="2.8" height="1" fill="#fff" />
<rect x="357" y="260.6" width="2.8" height="1" fill="#fff" />
<rect x="357" y="263.2" width="2.8" height="1" fill="#fff" />
<rect x="357" y="271" width="2.8" height="1" fill="#fff" />
<rect x="357" y="273.6" width="2.8" height="1" fill="#fff" />
<rect x="357" y="276.2" width="2.8" height="1" fill="#fff" />
<rect x="420.2" y="230.7" width="2.8" height="1" fill="#fff" />
<rect x="420.2" y="233.3" width="2.8" height="1" fill="#fff" />
<rect x="420.2" y="235.9" width="2.8" height="1" fill="#fff" />
<rect x="420.2" y="247.6" width="2.8" height="1" fill="#fff" />
<rect x="420.2" y="250.2" width="2.8" height="1" fill="#fff" />
<rect x="420.2" y="252.8" width="2.8" height="1" fill="#fff" />
<rect x="420.2" y="264.5" width="2.8" height="1" fill="#fff" />
<rect x="420.2" y="267.1" width="2.8" height="1" fill="#fff" />
<rect x="420.2" y="269.7" width="2.8" height="1" fill="#fff" />
<circle cx="366.6" cy="231.4" r="2.6" fill="#fff" shape-rendering="geometricPrecision"/>
<path d="M178.8 349H237V352H241V411H238V415H178.8V412H174.8V353H178.8Z" fill="#000"/>
<rect x="189.3" y="349" width="1" height="2.5" fill="#fff" />
<rect x="191.9" y="349" width="1" height="2.5" fill="#fff" />
<rect x="194.5" y="349" width="1" height="2.5" fill="#fff" />
<rect x="206.3" y="349" width="1" height="2.5" fill="#fff" />
<rect x="208.9" y="349" width="1" height="2.5" fill="#fff" />
<rect x="211.5" y="349" width="1" height="2.5" fill="#fff" />
<rect x="223.3" y="349" width="1" height="2.5" fill="#fff" />
<rect x="225.9" y="349" width="1" height="2.5" fill="#fff" />
<rect x="228.5" y="349" width="1" height="2.5" fill="#fff" />
<rect x="194.2" y="412.5" width="1" height="2.5" fill="#fff" />
<rect x="196.8" y="412.5" width="1" height="2.5" fill="#fff" />
<rect x="199.4" y="412.5" width="1" height="2.5" fill="#fff" />
<rect x="211.1" y="412.5" width="1" height="2.5" fill="#fff" />
<rect x="213.7" y="412.5" width="1" height="2.5" fill="#fff" />
<rect x="216.3" y="412.5" width="1" height="2.5" fill="#fff" />
<rect x="228" y="412.5" width="1" height="2.5" fill="#fff" />
<rect x="230.6" y="412.5" width="1" height="2.5" fill="#fff" />
<rect x="233.2" y="412.5" width="1" height="2.5" fill="#fff" />
<rect x="181.8" y="412.5" width="1" height="2.5" fill="#fff" />
<rect x="174.8" y="368.4" width="2.8" height="1" fill="#fff" />
<rect x="174.8" y="371" width="2.8" height="1" fill="#fff" />
<rect x="174.8" y="373.6" width="2.8" height="1" fill="#fff" />
<rect x="174.8" y="385.3" width="2.8" height="1" fill="#fff" />
<rect x="174.8" y="387.9" width="2.8" height="1" fill="#fff" />
<rect x="174.8" y="390.5" width="2.8" height="1" fill="#fff" />
<rect x="174.8" y="402.2" width="2.8" height="1" fill="#fff" />
<rect x="174.8" y="404.8" width="2.8" height="1" fill="#fff" />
<rect x="174.8" y="407.4" width="2.8" height="1" fill="#fff" />
<rect x="238.2" y="357" width="2.8" height="1" fill="#fff" />
<rect x="238.2" y="359.6" width="2.8" height="1" fill="#fff" />
<rect x="238.2" y="362.2" width="2.8" height="1" fill="#fff" />
<rect x="238.2" y="374" width="2.8" height="1" fill="#fff" />
<rect x="238.2" y="376.6" width="2.8" height="1" fill="#fff" />
<rect x="238.2" y="379.2" width="2.8" height="1" fill="#fff" />
<rect x="238.2" y="394" width="2.8" height="1" fill="#fff" />
<rect x="238.2" y="396.6" width="2.8" height="1" fill="#fff" />
<rect x="238.2" y="399.2" width="2.8" height="1" fill="#fff" />
<circle cx="184.4" cy="358.4" r="2.6" fill="#fff" shape-rendering="geometricPrecision"/>
<path d="M543.7 421.6H602.1V424.6H606.1V483.1H603.1V487.1H543.7V484.1H539.7V425.6H543.7Z" fill="#000"/>
<rect x="554.2" y="421.6" width="1" height="2.5" fill="#fff" />
<rect x="556.8" y="421.6" width="1" height="2.5" fill="#fff" />
<rect x="559.4" y="421.6" width="1" height="2.5" fill="#fff" />
<rect x="571.2" y="421.6" width="1" height="2.5" fill="#fff" />
<rect x="573.8" y="421.6" width="1" height="2.5" fill="#fff" />
<rect x="576.4" y="421.6" width="1" height="2.5" fill="#fff" />
<rect x="588.2" y="421.6" width="1" height="2.5" fill="#fff" />
<rect x="590.8" y="421.6" width="1" height="2.5" fill="#fff" />
<rect x="593.4" y="421.6" width="1" height="2.5" fill="#fff" />
<rect x="559.1" y="484.6" width="1" height="2.5" fill="#fff" />
<rect x="561.7" y="484.6" width="1" height="2.5" fill="#fff" />
<rect x="564.3" y="484.6" width="1" height="2.5" fill="#fff" />
<rect x="576" y="484.6" width="1" height="2.5" fill="#fff" />
<rect x="578.6" y="484.6" width="1" height="2.5" fill="#fff" />
<rect x="581.2" y="484.6" width="1" height="2.5" fill="#fff" />
<rect x="592.9" y="484.6" width="1" height="2.5" fill="#fff" />
<rect x="595.5" y="484.6" width="1" height="2.5" fill="#fff" />
<rect x="598.1" y="484.6" width="1" height="2.5" fill="#fff" />
<rect x="546.7" y="484.6" width="1" height="2.5" fill="#fff" />
<rect x="539.7" y="441" width="2.8" height="1" fill="#fff" />
<rect x="539.7" y="443.6" width="2.8" height="1" fill="#fff" />
<rect x="539.7" y="446.2" width="2.8" height="1" fill="#fff" />
<rect x="539.7" y="457.9" width="2.8" height="1" fill="#fff" />
<rect x="539.7" y="460.5" width="2.8" height="1" fill="#fff" />
<rect x="539.7" y="463.1" width="2.8" height="1" fill="#fff" />
<rect x="539.7" y="474.8" width="2.8" height="1" fill="#fff" />
<rect x="539.7" y="477.4" width="2.8" height="1" fill="#fff" />
<rect x="539.7" y="480" width="2.8" height="1" fill="#fff" />
<rect x="603.3" y="429.6" width="2.8" height="1" fill="#fff" />
<rect x="603.3" y="432.2" width="2.8" height="1" fill="#fff" />
<rect x="603.3" y="434.8" width="2.8" height="1" fill="#fff" />
<rect x="603.3" y="446.6" width="2.8" height="1" fill="#fff" />
<rect x="603.3" y="449.2" width="2.8" height="1" fill="#fff" />
<rect x="603.3" y="451.8" width="2.8" height="1" fill="#fff" />
<rect x="603.3" y="466.6" width="2.8" height="1" fill="#fff" />
<rect x="603.3" y="469.2" width="2.8" height="1" fill="#fff" />
<rect x="603.3" y="471.8" width="2.8" height="1" fill="#fff" />
<circle cx="549.3" cy="431" r="2.6" fill="#fff" shape-rendering="geometricPrecision"/>
<path d="M345 320.5H436.3V414H348L345 411Z" fill="#000"/>
<rect x="349.90" y="325.80" width="3" height="3" rx="1" fill="#fff"/>
<rect x="355.70" y="325.80" width="3" height="3" rx="1" fill="#fff"/>
<rect x="361.50" y="325.80" width="3" height="3" rx="1" fill="#fff"/>
<rect x="367.30" y="325.80" width="3" height="3" rx="1" fill="#fff"/>
<rect x="373.10" y="325.80" width="3" height="3" rx="1" fill="#fff"/>
<rect x="378.90" y="325.80" width="3" height="3" rx="1" fill="#fff"/>
<rect x="384.70" y="325.80" width="3" height="3" rx="1" fill="#fff"/>
<rect x="390.50" y="325.80" width="3" height="3" rx="1" fill="#fff"/>
<rect x="396.30" y="325.80" width="3" height="3" rx="1" fill="#fff"/>
<rect x="402.10" y="325.80" width="3" height="3" rx="1" fill="#fff"/>
<rect x="407.90" y="325.80" width="3" height="3" rx="1" fill="#fff"/>
<rect x="413.70" y="325.80" width="3" height="3" rx="1" fill="#fff"/>
<rect x="419.50" y="325.80" width="3" height="3" rx="1" fill="#fff"/>
<rect x="425.30" y="325.80" width="3" height="3" rx="1" fill="#fff"/>
<rect x="431.10" y="325.80" width="3" height="3" rx="1" fill="#fff"/>
<rect x="349.90" y="331.63" width="3" height="3" rx="1" fill="#fff"/>
<rect x="355.70" y="331.63" width="3" height="3" rx="1" fill="#fff"/>
<rect x="361.50" y="331.63" width="3" height="3" rx="1" fill="#fff"/>
<rect x="367.30" y="331.63" width="3" height="3" rx="1" fill="#fff"/>
<rect x="373.10" y="331.63" width="3" height="3" rx="1" fill="#fff"/>
<rect x="378.90" y="331.63" width="3" height="3" rx="1" fill="#fff"/>
<rect x="384.70" y="331.63" width="3" height="3" rx="1" fill="#fff"/>
<rect x="390.50" y="331.63" width="3" height="3" rx="1" fill="#fff"/>
<rect x="396.30" y="331.63" width="3" height="3" rx="1" fill="#fff"/>
<rect x="402.10" y="331.63" width="3" height="3" rx="1" fill="#fff"/>
<rect x="407.90" y="331.63" width="3" height="3" rx="1" fill="#fff"/>
<rect x="413.70" y="331.63" width="3" height="3" rx="1" fill="#fff"/>
<rect x="419.50" y="331.63" width="3" height="3" rx="1" fill="#fff"/>
<rect x="425.30" y="331.63" width="3" height="3" rx="1" fill="#fff"/>
<rect x="431.10" y="331.63" width="3" height="3" rx="1" fill="#fff"/>
<rect x="349.90" y="337.46" width="3" height="3" rx="1" fill="#fff"/>
<rect x="355.70" y="337.46" width="3" height="3" rx="1" fill="#fff"/>
<rect x="361.50" y="337.46" width="3" height="3" rx="1" fill="#fff"/>
<rect x="367.30" y="337.46" width="3" height="3" rx="1" fill="#fff"/>
<rect x="373.10" y="337.46" width="3" height="3" rx="1" fill="#fff"/>
<rect x="378.90" y="337.46" width="3" height="3" rx="1" fill="#fff"/>
<rect x="384.70" y="337.46" width="3" height="3" rx="1" fill="#fff"/>
<rect x="390.50" y="337.46" width="3" height="3" rx="1" fill="#fff"/>
<rect x="396.30" y="337.46" width="3" height="3" rx="1" fill="#fff"/>
<rect x="402.10" y="337.46" width="3" height="3" rx="1" fill="#fff"/>
<rect x="407.90" y="337.46" width="3" height="3" rx="1" fill="#fff"/>
<rect x="413.70" y="337.46" width="3" height="3" rx="1" fill="#fff"/>
<rect x="419.50" y="337.46" width="3" height="3" rx="1" fill="#fff"/>
<rect x="425.30" y="337.46" width="3" height="3" rx="1" fill="#fff"/>
<rect x="431.10" y="337.46" width="3" height="3" rx="1" fill="#fff"/>
<rect x="349.90" y="343.29" width="3" height="3" rx="1" fill="#fff"/>
<rect x="355.70" y="343.29" width="3" height="3" rx="1" fill="#fff"/>
<rect x="361.50" y="343.29" width="3" height="3" rx="1" fill="#fff"/>
<rect x="419.50" y="343.29" width="3" height="3" rx="1" fill="#fff"/>
<rect x="425.30" y="343.29" width="3" height="3" rx="1" fill="#fff"/>
<rect x="431.10" y="343.29" width="3" height="3" rx="1" fill="#fff"/>
<rect x="349.90" y="349.12" width="3" height="3" rx="1" fill="#fff"/>
<rect x="355.70" y="349.12" width="3" height="3" rx="1" fill="#fff"/>
<rect x="361.50" y="349.12" width="3" height="3" rx="1" fill="#fff"/>
<rect x="419.50" y="349.12" width="3" height="3" rx="1" fill="#fff"/>
<rect x="425.30" y="349.12" width="3" height="3" rx="1" fill="#fff"/>
<rect x="431.10" y="349.12" width="3" height="3" rx="1" fill="#fff"/>
<rect x="349.90" y="354.95" width="3" height="3" rx="1" fill="#fff"/>
<rect x="355.70" y="354.95" width="3" height="3" rx="1" fill="#fff"/>
<rect x="361.50" y="354.95" width="3" height="3" rx="1" fill="#fff"/>
<rect x="419.50" y="354.95" width="3" height="3" rx="1" fill="#fff"/>
<rect x="425.30" y="354.95" width="3" height="3" rx="1" fill="#fff"/>
<rect x="431.10" y="354.95" width="3" height="3" rx="1" fill="#fff"/>
<rect x="349.90" y="360.78" width="3" height="3" rx="1" fill="#fff"/>
<rect x="355.70" y="360.78" width="3" height="3" rx="1" fill="#fff"/>
<rect x="361.50" y="360.78" width="3" height="3" rx="1" fill="#fff"/>
<rect x="419.50" y="360.78" width="3" height="3" rx="1" fill="#fff"/>
<rect x="425.30" y="360.78" width="3" height="3" rx="1" fill="#fff"/>
<rect x="431.10" y="360.78" width="3" height="3" rx="1" fill="#fff"/>
<rect x="349.90" y="366.61" width="3" height="3" rx="1" fill="#fff"/>
<rect x="355.70" y="366.61" width="3" height="3" rx="1" fill="#fff"/>
<rect x="361.50" y="366.61" width="3" height="3" rx="1" fill="#fff"/>
<rect x="419.50" y="366.61" width="3" height="3" rx="1" fill="#fff"/>
<rect x="425.30" y="366.61" width="3" height="3" rx="1" fill="#fff"/>
<rect x="431.10" y="366.61" width="3" height="3" rx="1" fill="#fff"/>
<rect x="349.90" y="372.44" width="3" height="3" rx="1" fill="#fff"/>
<rect x="355.70" y="372.44" width="3" height="3" rx="1" fill="#fff"/>
<rect x="361.50" y="372.44" width="3" height="3" rx="1" fill="#fff"/>
<rect x="419.50" y="372.44" width="3" height="3" rx="1" fill="#fff"/>
<rect x="425.30" y="372.44" width="3" height="3" rx="1" fill="#fff"/>
<rect x="431.10" y="372.44" width="3" height="3" rx="1" fill="#fff"/>
<rect x="349.90" y="378.27" width="3" height="3" rx="1" fill="#fff"/>
<rect x="355.70" y="378.27" width="3" height="3" rx="1" fill="#fff"/>
<rect x="361.50" y="378.27" width="3" height="3" rx="1" fill="#fff"/>
<rect x="419.50" y="378.27" width="3" height="3" rx="1" fill="#fff"/>
<rect x="425.30" y="378.27" width="3" height="3" rx="1" fill="#fff"/>
<rect x="431.10" y="378.27" width="3" height="3" rx="1" fill="#fff"/>
<rect x="349.90" y="384.10" width="3" height="3" rx="1" fill="#fff"/>
<rect x="355.70" y="384.10" width="3" height="3" rx="1" fill="#fff"/>
<rect x="361.50" y="384.10" width="3" height="3" rx="1" fill="#fff"/>
<rect x="419.50" y="384.10" width="3" height="3" rx="1" fill="#fff"/>
<rect x="425.30" y="384.10" width="3" height="3" rx="1" fill="#fff"/>
<rect x="431.10" y="384.10" width="3" height="3" rx="1" fill="#fff"/>
<rect x="349.90" y="389.93" width="3" height="3" rx="1" fill="#fff"/>
<rect x="355.70" y="389.93" width="3" height="3" rx="1" fill="#fff"/>
<rect x="361.50" y="389.93" width="3" height="3" rx="1" fill="#fff"/>
<rect x="419.50" y="389.93" width="3" height="3" rx="1" fill="#fff"/>
<rect x="425.30" y="389.93" width="3" height="3" rx="1" fill="#fff"/>
<rect x="431.10" y="389.93" width="3" height="3" rx="1" fill="#fff"/>
<rect x="349.90" y="395.76" width="3" height="3" rx="1" fill="#fff"/>
<rect x="355.70" y="395.76" width="3" height="3" rx="1" fill="#fff"/>
<rect x="361.50" y="395.76" width="3" height="3" rx="1" fill="#fff"/>
<rect x="367.30" y="395.76" width="3" height="3" rx="1" fill="#fff"/>
<rect x="373.10" y="395.76" width="3" height="3" rx="1" fill="#fff"/>
<rect x="378.90" y="395.76" width="3" height="3" rx="1" fill="#fff"/>
<rect x="384.70" y="395.76" width="3" height="3" rx="1" fill="#fff"/>
<rect x="390.50" y="395.76" width="3" height="3" rx="1" fill="#fff"/>
<rect x="396.30" y="395.76" width="3" height="3" rx="1" fill="#fff"/>
<rect x="402.10" y="395.76" width="3" height="3" rx="1" fill="#fff"/>
<rect x="407.90" y="395.76" width="3" height="3" rx="1" fill="#fff"/>
<rect x="413.70" y="395.76" width="3" height="3" rx="1" fill="#fff"/>
<rect x="419.50" y="395.76" width="3" height="3" rx="1" fill="#fff"/>
<rect x="425.30" y="395.76" width="3" height="3" rx="1" fill="#fff"/>
<rect x="431.10" y="395.76" width="3" height="3" rx="1" fill="#fff"/>
<rect x="349.90" y="401.59" width="3" height="3" rx="1" fill="#fff"/>
<rect x="355.70" y="401.59" width="3" height="3" rx="1" fill="#fff"/>
<rect x="361.50" y="401.59" width="3" height="3" rx="1" fill="#fff"/>
<rect x="367.30" y="401.59" width="3" height="3" rx="1" fill="#fff"/>
<rect x="373.10" y="401.59" width="3" height="3" rx="1" fill="#fff"/>
<rect x="378.90" y="401.59" width="3" height="3" rx="1" fill="#fff"/>
<rect x="384.70" y="401.59" width="3" height="3" rx="1" fill="#fff"/>
<rect x="390.50" y="401.59" width="3" height="3" rx="1" fill="#fff"/>
<rect x="396.30" y="401.59" width="3" height="3" rx="1" fill="#fff"/>
<rect x="402.10" y="401.59" width="3" height="3" rx="1" fill="#fff"/>
<rect x="407.90" y="401.59" width="3" height="3" rx="1" fill="#fff"/>
<rect x="413.70" y="401.59" width="3" height="3" rx="1" fill="#fff"/>
<rect x="419.50" y="401.59" width="3" height="3" rx="1" fill="#fff"/>
<rect x="425.30" y="401.59" width="3" height="3" rx="1" fill="#fff"/>
<rect x="431.10" y="401.59" width="3" height="3" rx="1" fill="#fff"/>
<rect x="349.90" y="407.42" width="3" height="3" rx="1" fill="#fff"/>
<rect x="355.70" y="407.42" width="3" height="3" rx="1" fill="#fff"/>
<rect x="361.50" y="407.42" width="3" height="3" rx="1" fill="#fff"/>
<rect x="367.30" y="407.42" width="3" height="3" rx="1" fill="#fff"/>
<rect x="373.10" y="407.42" width="3" height="3" rx="1" fill="#fff"/>
<rect x="378.90" y="407.42" width="3" height="3" rx="1" fill="#fff"/>
<rect x="384.70" y="407.42" width="3" height="3" rx="1" fill="#fff"/>
<rect x="390.50" y="407.42" width="3" height="3" rx="1" fill="#fff"/>
<rect x="396.30" y="407.42" width="3" height="3" rx="1" fill="#fff"/>
<rect x="402.10" y="407.42" width="3" height="3" rx="1" fill="#fff"/>
<rect x="407.90" y="407.42" width="3" height="3" rx="1" fill="#fff"/>
<rect x="413.70" y="407.42" width="3" height="3" rx="1" fill="#fff"/>
<rect x="419.50" y="407.42" width="3" height="3" rx="1" fill="#fff"/>
<rect x="425.30" y="407.42" width="3" height="3" rx="1" fill="#fff"/>
<rect x="431.10" y="407.42" width="3" height="3" rx="1" fill="#fff"/>
<rect x="368" y="345" width="45" height="46.3" fill="#fff" />
<path d="M369.5 384.5H373L374.5 386.5L372.5 389H369.5Z" fill="#000"/>
<rect x="374" y="358" width="33" height="19" rx="4" ry="4" fill="#000" shape-rendering="geometricPrecision"/>
<rect x="377" y="360" width="28" height="15" rx="2.2" ry="2.2" fill="#fff" shape-rendering="geometricPrecision"/>
<text class="t" transform="scale(0.73,1)" x="517.58" y="372" font-size="14.5" letter-spacing="2.83">NPU</text>
<path d="M401 433H485V509L478 516H401Z" fill="#000"/>
<circle cx="475.3" cy="508.3" r="3.6" fill="#fff" shape-rendering="geometricPrecision"/>
<rect x="429" y="467" width="28" height="15" rx="1.5" fill="#fff"/>
<text class="t" transform="scale(0.73,1)" x="588.30" y="479" font-size="14.5" letter-spacing="2.95">CPU</text>
<rect x="173.5" y="434.5" width="182" height="77" fill="#fff" stroke="#000" stroke-width="1"/>
<text class="t" transform="scale(0.73,1)" x="330.36" y="477" font-size="14.5" letter-spacing="2.65">CACHE</text>
<rect x="63" y="21" width="6" height="14" fill="#000" />
<rect x="64" y="22.5" width="4" height="1" fill="#fff" />
<rect x="64" y="27.5" width="4" height="1" fill="#fff" />
<rect x="64" y="32.5" width="4" height="1" fill="#fff" />
<rect x="64" y="125" width="14" height="13" fill="#000" />
<rect x="65" y="126" width="1" height="11" fill="#fff" />
<rect x="66" y="131" width="4" height="1" fill="#fff" />
<rect x="72" y="131" width="5" height="1" fill="#fff" />
<rect x="66" y="136" width="4" height="1" fill="#fff" />
<rect x="72" y="136" width="5" height="1" fill="#fff" />
<rect x="66.5" y="267.5" width="5.5" height="25" fill="#fff" stroke="#000" stroke-width="1"/>
<rect x="67.7" y="269.7" width="3.1" height="3.8" fill="#fff" stroke="#000" stroke-width="1"/>
<rect x="66.8" y="276.3" width="4" height="3.8" fill="#000" />
<rect x="66.8" y="281.6" width="4" height="3.8" fill="#000" />
<rect x="66.8" y="287.3" width="4" height="4.5" fill="#000" />
<rect x="73" y="267.5" width="6.5" height="30" fill="#fff" stroke="#000" stroke-width="1"/>
<rect x="74.5" y="269.7" width="3.3" height="3.8" fill="#fff" stroke="#000" stroke-width="1"/>
<rect x="73.4" y="275.4" width="4.6" height="3" fill="#000" />
<rect x="73.4" y="281" width="4.6" height="4" fill="#000" />
<rect x="73.4" y="286.3" width="4.6" height="4.3" fill="#000" />
<rect x="73.4" y="292.5" width="4.6" height="4.7" fill="#000" />
<rect x="64" y="430" width="19" height="19" fill="#000" />
<rect x="65" y="431" width="3.5" height="1" fill="#fff" />
<rect x="65" y="437" width="3.5" height="1" fill="#fff" />
<rect x="65" y="442" width="3.5" height="2" fill="#fff" />
<rect x="71" y="431" width="5" height="1" fill="#fff" />
<rect x="71" y="437" width="5" height="1" fill="#fff" />
<rect x="71" y="442" width="5" height="2" fill="#fff" />
<rect x="78" y="431" width="4" height="1" fill="#fff" />
<rect x="78" y="437" width="4" height="1" fill="#fff" />
<rect x="78" y="442" width="4" height="2" fill="#fff" />
<rect x="66" y="433" width="2" height="3" fill="#fff" />
<rect x="72" y="433" width="3" height="3" fill="#fff" />
<rect x="79" y="433" width="2" height="3" fill="#fff" />
<rect x="69" y="431" width="1" height="17" fill="#fff" />
<rect x="64" y="467" width="12.7" height="19" fill="#000" />
<rect x="76.7" y="472" width="7" height="14" fill="#000" />
<rect x="66" y="469" width="3" height="2.7" fill="#fff" />
<rect x="73" y="469" width="2.2" height="2.7" fill="#fff" />
<rect x="65" y="473" width="5" height="1" fill="#fff" />
<rect x="72" y="473" width="4" height="1" fill="#fff" />
<rect x="78" y="473" width="5" height="1" fill="#fff" />
<rect x="65" y="479" width="5" height="1" fill="#fff" />
<rect x="72" y="479" width="4" height="1" fill="#fff" />
<rect x="78" y="478" width="5" height="2" fill="#fff" />
<rect x="78" y="484" width="5" height="1" fill="#fff" />
<rect x="149" y="391" width="14.3" height="7" fill="#000" />
<rect x="151" y="392.5" width="3" height="4" fill="#fff" />
<rect x="156" y="392.5" width="2" height="4" fill="#fff" />
<rect x="160" y="392.5" width="2" height="4" fill="#fff" />
<rect x="665" y="430" width="19" height="7" fill="#000" />
<rect x="669.3" y="431.5" width="2.4" height="4" fill="#fff" />
<rect x="675.8" y="431.5" width="2.5" height="4" fill="#fff" />
<rect x="681.3" y="431.5" width="1.4" height="4" fill="#fff" />
<rect x="722" y="430" width="14" height="7" fill="#000" />
<rect x="724.2" y="431.5" width="3.8" height="4" fill="#fff" />
<rect x="732" y="431.5" width="2.4" height="4" fill="#fff" />
<rect x="733" y="465" width="26" height="6" fill="#000" />
<rect x="734.7" y="466.2" width="4.3" height="3.4" fill="#fff" />
<rect x="743.5" y="466.2" width="1.8" height="3.4" fill="#fff" />
<rect x="748.9" y="466.2" width="1.7" height="3.4" fill="#fff" />
<rect x="753.9" y="466.2" width="1.4" height="3.4" fill="#fff" />
<rect x="736.2" y="467.3" width="1.4" height="1.4" fill="#000" />
<rect x="652.5" y="490.5" width="112" height="24" fill="#fff" stroke="#000" stroke-width="1"/>
<line x1="652" y1="498" x2="765" y2="498" stroke="#000" stroke-width="1"/>
<rect x="654.10" y="492.9" width="7" height="4.8" rx="2" ry="2" fill="#000" shape-rendering="geometricPrecision"/>
<rect x="655.4" y="494.6" width="4.4" height="1.2" fill="#fff" />
<rect x="654.2" y="500.8" width="6.8" height="1.9" fill="#000" />
<rect x="663.50" y="492.9" width="7" height="4.8" rx="2" ry="2" fill="#000" shape-rendering="geometricPrecision"/>
<rect x="664.8" y="494.6" width="4.4" height="1.2" fill="#fff" />
<rect x="663.6" y="500.8" width="6.8" height="1.9" fill="#000" />
<rect x="673.00" y="492.9" width="7" height="4.8" rx="2" ry="2" fill="#000" shape-rendering="geometricPrecision"/>
<rect x="674.3" y="494.6" width="4.4" height="1.2" fill="#fff" />
<rect x="673.1" y="500.8" width="6.8" height="1.9" fill="#000" />
<rect x="681.70" y="492.9" width="7" height="4.8" rx="2" ry="2" fill="#000" shape-rendering="geometricPrecision"/>
<rect x="683" y="494.6" width="4.4" height="1.2" fill="#fff" />
<rect x="681.8" y="500.8" width="6.8" height="1.9" fill="#000" />
<rect x="691.20" y="492.9" width="7" height="4.8" rx="2" ry="2" fill="#000" shape-rendering="geometricPrecision"/>
<rect x="692.5" y="494.6" width="4.4" height="1.2" fill="#fff" />
<rect x="691.3" y="500.8" width="6.8" height="1.9" fill="#000" />
<rect x="699.80" y="492.9" width="7" height="4.8" rx="2" ry="2" fill="#000" shape-rendering="geometricPrecision"/>
<rect x="701.1" y="494.6" width="4.4" height="1.2" fill="#fff" />
<rect x="699.9" y="500.8" width="6.8" height="1.9" fill="#000" />
<rect x="709.40" y="492.9" width="7" height="4.8" rx="2" ry="2" fill="#000" shape-rendering="geometricPrecision"/>
<rect x="710.7" y="494.6" width="4.4" height="1.2" fill="#fff" />
<rect x="709.5" y="500.8" width="6.8" height="1.9" fill="#000" />
<rect x="718.60" y="492.9" width="7" height="4.8" rx="2" ry="2" fill="#000" shape-rendering="geometricPrecision"/>
<rect x="719.9" y="494.6" width="4.4" height="1.2" fill="#fff" />
<rect x="718.7" y="500.8" width="6.8" height="1.9" fill="#000" />
<rect x="727.80" y="492.9" width="7" height="4.8" rx="2" ry="2" fill="#000" shape-rendering="geometricPrecision"/>
<rect x="729.1" y="494.6" width="4.4" height="1.2" fill="#fff" />
<rect x="727.9" y="500.8" width="6.8" height="1.9" fill="#000" />
<rect x="736.90" y="492.9" width="7" height="4.8" rx="2" ry="2" fill="#000" shape-rendering="geometricPrecision"/>
<rect x="738.2" y="494.6" width="4.4" height="1.2" fill="#fff" />
<rect x="737" y="500.8" width="6.8" height="1.9" fill="#000" />
<rect x="746.50" y="492.9" width="7" height="4.8" rx="2" ry="2" fill="#000" shape-rendering="geometricPrecision"/>
<rect x="747.8" y="494.6" width="4.4" height="1.2" fill="#fff" />
<rect x="746.6" y="500.8" width="6.8" height="1.9" fill="#000" />
<rect x="756.00" y="492.9" width="7" height="4.8" rx="2" ry="2" fill="#000" shape-rendering="geometricPrecision"/>
<rect x="757.3" y="494.6" width="4.4" height="1.2" fill="#fff" />
<rect x="756.1" y="500.8" width="6.8" height="1.9" fill="#000" />
<rect x="658.5" y="504.5" width="6.5" height="7" fill="#fff" stroke="#000" stroke-width="1"/>
<rect x="668.5" y="504.5" width="6.5" height="7" fill="#fff" stroke="#000" stroke-width="1"/>
<rect x="677.7" y="504.5" width="6.5" height="7" fill="#fff" stroke="#000" stroke-width="1"/>
<rect x="686.8" y="504.5" width="6.5" height="7" fill="#fff" stroke="#000" stroke-width="1"/>
<rect x="696.8" y="504.5" width="6.1" height="7" fill="#fff" stroke="#000" stroke-width="1"/>
<rect x="705.7" y="504.5" width="5.2" height="7" fill="#fff" stroke="#000" stroke-width="1"/>
<rect x="714.7" y="504.5" width="6.1" height="7" fill="#fff" stroke="#000" stroke-width="1"/>
<rect x="723.8" y="504.5" width="6.1" height="7" fill="#fff" stroke="#000" stroke-width="1"/>
<rect x="733" y="504.5" width="5.7" height="7" fill="#fff" stroke="#000" stroke-width="1"/>
<rect x="742.2" y="504.5" width="6.1" height="7" fill="#fff" stroke="#000" stroke-width="1"/>
<rect x="752.6" y="504.5" width="5.7" height="7" fill="#fff" stroke="#000" stroke-width="1"/>
<rect x="652" y="505" width="2.5" height="1" fill="#000" />
<rect x="652" y="509" width="2.5" height="1" fill="#000" />
<rect x="654" y="505" width="1" height="5" fill="#000" />
<rect x="762.5" y="505" width="2.5" height="1" fill="#000" />
<rect x="762.5" y="509" width="2.5" height="1" fill="#000" />
<rect x="762" y="505" width="1" height="5" fill="#000" />
<rect x="804" y="460" width="30" height="37" fill="#000" />
<rect x="828" y="456" width="6" height="46" fill="#000" />
<rect x="831" y="453" width="3" height="51" fill="#000" />
<rect x="801.8" y="466.5" width="2.2" height="24" fill="#fff" stroke="#000" stroke-width="1"/>
<rect x="797.5" y="469.5" width="4" height="6.5" fill="#fff" stroke="#000" stroke-width="1"/>
<rect x="797.5" y="480.7" width="4" height="8" fill="#fff" stroke="#000" stroke-width="1"/>
<rect x="802" y="477.5" width="1" height="2" fill="#000" />
<path d="M782.5 411 Q782.5 408.5 786 408.5 Q789 408 792 410.5 Q796 410.5 799 409.5 Q802.5 407.5 806 409.5 Q810 410.5 813 410 Q816 408 819.5 408.5 Q822.5 408.5 822.5 411 V432.5 Q822.5 435 819.5 435 Q816 435.5 813 433.5 Q810 433 806 434 Q802.5 436 799 434 Q796 433 792 433.5 Q789 435.5 786 435 Q782.5 435 782.5 432.5Z" fill="url(#dots)" stroke="#333" stroke-width="0.8" shape-rendering="geometricPrecision"/>
<rect x="11" y="19" width="36" height="19" rx="3.0" ry="3.0" fill="#000" shape-rendering="geometricPrecision"/>
<path d="M43.00 25.04L45.00 25.00L49.76 26.72L55.20 27.12L62.00 27.25L62.00 29.15L55.20 29.52L49.76 30.12L45.00 32.00L43.00 32.04Z" fill="#000" shape-rendering="geometricPrecision"/>
<rect x="13.2" y="21" width="31.6" height="14.5" rx="1.2" ry="1.2" fill="#fff" shape-rendering="geometricPrecision"/>
<path d="M42.00 26.55L45.00 26.50L49.05 28.43L45.00 30.10L42.00 30.15Z" fill="#fff" shape-rendering="geometricPrecision"/>
<text class="t" transform="scale(0.73,1)" x="21.69" y="33.2" font-size="14.5" letter-spacing="2.42">JP4</text>
<rect x="183" y="10" width="26" height="19" rx="3.0" ry="3.0" fill="#000" shape-rendering="geometricPrecision"/>
<path d="M199.47 25.21L201.00 26.50L209.11 32.06L214.11 35.45L215.89 34.55L212.15 30.53L206.00 24.00L204.47 22.71Z" fill="#000" shape-rendering="geometricPrecision"/>
<rect x="186" y="12" width="20.8" height="14.5" rx="1.2" ry="1.2" fill="#fff" shape-rendering="geometricPrecision"/>
<path d="M200.05 23.89L202.34 25.83L209.56 30.39L204.30 24.85L202.01 22.91Z" fill="#fff" shape-rendering="geometricPrecision"/>
<text class="t" transform="scale(0.73,1)" x="257.97" y="23" font-size="14.5" letter-spacing="1.71">S1</text>
<rect x="37.6" y="95.3" width="33.2" height="18.3" rx="3.0" ry="3.0" fill="#000" shape-rendering="geometricPrecision"/>
<path d="M64.50 109.27L65.50 111.00L70.19 118.41L73.53 122.84L75.47 122.36L73.49 117.59L69.50 110.00L68.50 108.27Z" fill="#000" shape-rendering="geometricPrecision"/>
<rect x="39.8" y="97.3" width="28.8" height="13.8" rx="1.2" ry="1.2" fill="#fff" shape-rendering="geometricPrecision"/>
<path d="M65.45 108.04L66.96 110.64L71.19 116.88L67.66 110.46L66.15 107.86Z" fill="#fff" shape-rendering="geometricPrecision"/>
<text class="t" transform="scale(0.73,1)" x="55.09" y="108.3" font-size="14.5" letter-spacing="2.58">SW1</text>
<rect x="13.1" y="122.3" width="35.8" height="18.5" rx="3.0" ry="3.0" fill="#000" shape-rendering="geometricPrecision"/>
<path d="M44.00 128.01L46.00 128.00L50.84 129.77L56.38 130.24L63.30 130.45L63.30 132.35L56.38 132.64L50.84 133.17L46.00 135.00L44.00 135.01Z" fill="#000" shape-rendering="geometricPrecision"/>
<rect x="15.3" y="124.3" width="31.4" height="14" rx="1.2" ry="1.2" fill="#fff" shape-rendering="geometricPrecision"/>
<path d="M43.00 129.52L46.00 129.50L50.12 131.48L46.00 133.10L43.00 133.12Z" fill="#fff" shape-rendering="geometricPrecision"/>
<text class="t" transform="scale(0.73,1)" x="21.26" y="135.5" font-size="14.5" letter-spacing="3.13">SW2</text>
<rect x="171.3" y="120" width="59.5" height="17.6" rx="1.5" ry="1.5" fill="#000" shape-rendering="geometricPrecision"/>
<rect x="173.3" y="121.5" width="55.5" height="14.6" rx="0.5" ry="0.5" fill="#fff" shape-rendering="geometricPrecision"/>
<text class="t" transform="scale(0.73,1)" x="240.59" y="133" font-size="14.5" letter-spacing="2.53">BANK 1</text>
<rect x="171.3" y="267.6" width="59.5" height="18.1" rx="1.5" ry="1.5" fill="#000" shape-rendering="geometricPrecision"/>
<rect x="173.3" y="269.1" width="55.5" height="15.1" rx="0.5" ry="0.5" fill="#fff" shape-rendering="geometricPrecision"/>
<text class="t" transform="scale(0.73,1)" x="239.50" y="280" font-size="14.5" letter-spacing="2.64">BANK 0</text>
<rect x="40.3" y="237.5" width="32.4" height="18.2" rx="3.0" ry="3.0" fill="#000" shape-rendering="geometricPrecision"/>
<path d="M62.86 251.36L64.00 253.00L72.00 261.33L76.44 266.57L78.36 266.03L75.27 260.40L71.00 251.00L69.86 249.36Z" fill="#000" shape-rendering="geometricPrecision"/>
<rect x="42.5" y="239.5" width="28" height="13.7" rx="1.2" ry="1.2" fill="#fff" shape-rendering="geometricPrecision"/>
<path d="M63.73 250.12L65.44 252.59L72.72 259.54L69.17 251.52L67.47 249.06Z" fill="#fff" shape-rendering="geometricPrecision"/>
<text class="t" transform="scale(0.73,1)" x="61.14" y="250.5" font-size="14.5" letter-spacing="2.24">J23</text>
<rect x="14.4" y="272.4" width="36.3" height="17.1" rx="3.0" ry="3.0" fill="#000" shape-rendering="geometricPrecision"/>
<path d="M46.00 277.52L48.00 277.50L52.98 279.24L58.68 279.68L65.80 279.85L65.80 281.75L58.68 282.08L52.98 282.64L48.00 284.50L46.00 284.52Z" fill="#000" shape-rendering="geometricPrecision"/>
<rect x="16.9" y="274.4" width="31.6" height="12.6" rx="1.2" ry="1.2" fill="#fff" shape-rendering="geometricPrecision"/>
<path d="M45.00 279.03L48.00 279.00L52.24 280.95L48.00 282.60L45.00 282.63Z" fill="#fff" shape-rendering="geometricPrecision"/>
<text class="t" transform="scale(0.73,1)" x="25.12" y="285.2" font-size="14.5" letter-spacing="3.02">J24</text>
<rect x="97.1" y="385" width="35.6" height="19" rx="3.0" ry="3.0" fill="#000" shape-rendering="geometricPrecision"/>
<path d="M128.50 390.99L130.50 391.00L135.68 392.83L141.60 393.36L149.00 393.65L149.00 395.55L141.60 395.76L135.68 396.23L130.50 398.00L128.50 397.99Z" fill="#000" shape-rendering="geometricPrecision"/>
<rect x="99.3" y="387" width="31.2" height="14.5" rx="1.2" ry="1.2" fill="#fff" shape-rendering="geometricPrecision"/>
<path d="M127.50 392.48L130.50 392.50L134.90 394.52L130.50 396.10L127.50 396.08Z" fill="#fff" shape-rendering="geometricPrecision"/>
<text class="t" transform="scale(0.73,1)" x="140.60" y="398" font-size="14.5" letter-spacing="2.87">JP3</text>
<rect x="34.2" y="404.3" width="32.6" height="18" rx="3.0" ry="3.0" fill="#000" shape-rendering="geometricPrecision"/>
<path d="M56.61 417.57L58.00 419.00L66.62 425.41L71.44 429.47L73.36 428.93L69.89 424.48L65.00 417.00L63.61 415.57Z" fill="#000" shape-rendering="geometricPrecision"/>
<rect x="36.4" y="406.3" width="28.2" height="13.5" rx="1.2" ry="1.2" fill="#fff" shape-rendering="geometricPrecision"/>
<path d="M57.35 416.44L59.44 418.59L67.24 423.90L63.17 417.52L61.08 415.37Z" fill="#fff" shape-rendering="geometricPrecision"/>
<text class="t" transform="scale(0.73,1)" x="52.92" y="417" font-size="14.5" letter-spacing="2.80">JP6</text>
<rect x="12.4" y="431.2" width="35.2" height="18.2" rx="3.0" ry="3.0" fill="#000" shape-rendering="geometricPrecision"/>
<path d="M43.00 437.03L45.00 437.00L50.26 438.48L56.28 438.90L63.80 439.05L63.80 440.95L56.28 441.30L50.26 441.88L45.00 443.50L43.00 443.53Z" fill="#000" shape-rendering="geometricPrecision"/>
<rect x="15.4" y="433.2" width="30" height="13.7" rx="1.2" ry="1.2" fill="#fff" shape-rendering="geometricPrecision"/>
<path d="M42.00 438.54L45.00 438.50L49.47 440.19L45.00 441.60L42.00 441.64Z" fill="#fff" shape-rendering="geometricPrecision"/>
<text class="t" transform="scale(0.73,1)" x="22.79" y="444.7" font-size="14.5" letter-spacing="3.05">JP7</text>
<rect x="98.8" y="431.2" width="36" height="18.4" rx="3.0" ry="3.0" fill="#000" shape-rendering="geometricPrecision"/>
<path d="M102.00 436.53L100.00 436.50L95.44 438.48L90.22 438.90L83.70 439.05L83.70 440.95L90.22 441.30L95.44 441.88L100.00 444.00L102.00 444.03Z" fill="#000" shape-rendering="geometricPrecision"/>
<rect x="101" y="433.2" width="31.6" height="13.9" rx="1.2" ry="1.2" fill="#fff" shape-rendering="geometricPrecision"/>
<path d="M103.00 438.05L100.00 438.00L96.12 440.19L100.00 442.10L103.00 442.15Z" fill="#fff" shape-rendering="geometricPrecision"/>
<text class="t" transform="scale(0.73,1)" x="142.10" y="444.7" font-size="14.5" letter-spacing="2.58">JP5</text>
<rect x="94" y="451.2" width="35.6" height="18.7" rx="3.0" ry="3.0" fill="#000" shape-rendering="geometricPrecision"/>
<path d="M97.89 455.33L96.00 456.00L90.71 459.68L84.66 462.32L77.10 465.25L77.10 467.15L84.66 464.72L90.71 463.08L96.00 463.00L97.89 462.33Z" fill="#000" shape-rendering="geometricPrecision"/>
<rect x="96.2" y="453.2" width="31.2" height="14.2" rx="1.2" ry="1.2" fill="#fff" shape-rendering="geometricPrecision"/>
<path d="M98.83 456.50L96.00 457.50L91.50 461.09L96.00 461.10L98.83 460.10Z" fill="#fff" shape-rendering="geometricPrecision"/>
<text class="t" transform="scale(0.73,1)" x="135.12" y="464" font-size="14.5" letter-spacing="2.90">JP9</text>
<rect x="7.2" y="468" width="41.3" height="17.8" rx="3.0" ry="3.0" fill="#000" shape-rendering="geometricPrecision"/>
<path d="M44.00 473.50L46.00 473.50L50.98 475.30L56.68 475.80L63.80 476.05L63.80 477.95L56.68 478.20L50.98 478.70L46.00 480.50L44.00 480.50Z" fill="#000" shape-rendering="geometricPrecision"/>
<rect x="9.2" y="470" width="36.3" height="13.6" rx="1.2" ry="1.2" fill="#fff" shape-rendering="geometricPrecision"/>
<path d="M43.00 475.00L46.00 475.00L50.24 477.00L46.00 478.60L43.00 478.60Z" fill="#fff" shape-rendering="geometricPrecision"/>
<text class="t" transform="scale(0.73,1)" x="15.66" y="481.5" font-size="14.5" letter-spacing="2.54">JP10</text>
<rect x="100.2" y="472" width="35.6" height="18.6" rx="3.0" ry="3.0" fill="#000" shape-rendering="geometricPrecision"/>
<path d="M103.98 477.80L102.00 477.50L96.88 478.78L91.02 478.40L83.70 477.55L83.70 479.45L91.02 480.80L96.88 482.18L102.00 485.00L103.98 485.30Z" fill="#000" shape-rendering="geometricPrecision"/>
<rect x="102.4" y="474" width="31.2" height="14.1" rx="1.2" ry="1.2" fill="#fff" shape-rendering="geometricPrecision"/>
<path d="M104.97 479.45L102.00 479.00L97.64 480.60L102.00 483.10L104.97 483.55Z" fill="#fff" shape-rendering="geometricPrecision"/>
<text class="t" transform="scale(0.73,1)" x="145.12" y="485" font-size="14.5" letter-spacing="2.59">JP8</text>
<rect x="634.2" y="404.2" width="33.8" height="18.5" rx="3.0" ry="3.0" fill="#000" shape-rendering="geometricPrecision"/>
<path d="M660.09 418.58L661.50 420.00L668.65 425.80L673.04 429.36L674.96 428.84L671.94 424.91L667.00 418.50L665.59 417.08Z" fill="#000" shape-rendering="geometricPrecision"/>
<rect x="636.4" y="406.2" width="29.4" height="14" rx="1.2" ry="1.2" fill="#fff" shape-rendering="geometricPrecision"/>
<path d="M660.84 417.47L662.95 419.61L669.39 424.44L665.17 419.00L663.06 416.87Z" fill="#fff" shape-rendering="geometricPrecision"/>
<text class="t" transform="scale(0.73,1)" x="874.84" y="417" font-size="14.5" letter-spacing="2.92">JP2</text>
<rect x="690" y="403.5" width="34" height="18.5" rx="3.0" ry="3.0" fill="#000" shape-rendering="geometricPrecision"/>
<path d="M715.62 418.05L717.00 419.50L724.28 425.68L728.74 429.46L730.66 428.94L727.56 424.78L722.50 418.00L721.12 416.55Z" fill="#000" shape-rendering="geometricPrecision"/>
<rect x="692.2" y="405.5" width="29.6" height="14" rx="1.2" ry="1.2" fill="#fff" shape-rendering="geometricPrecision"/>
<path d="M716.38 416.93L718.45 419.11L724.99 424.26L720.67 418.50L718.60 416.33Z" fill="#fff" shape-rendering="geometricPrecision"/>
<text class="t" transform="scale(0.73,1)" x="952.24" y="417" font-size="14.5" letter-spacing="2.29">JP1</text>
<rect x="752.8" y="437.6" width="32.6" height="17.4" rx="3.0" ry="3.0" fill="#000" shape-rendering="geometricPrecision"/>
<path d="M756.39 447.56L755.00 449.00L748.98 457.12L745.18 462.03L746.82 463.17L751.76 459.07L760.00 452.50L761.39 451.06Z" fill="#000" shape-rendering="geometricPrecision"/>
<rect x="755" y="439.6" width="28.2" height="12.9" rx="1.2" ry="1.2" fill="#fff" shape-rendering="geometricPrecision"/>
<path d="M758.32 447.71L756.23 449.86L751.44 456.99L758.44 451.41L760.53 449.26Z" fill="#fff" shape-rendering="geometricPrecision"/>
<text class="t" transform="scale(0.73,1)" x="1036.76" y="450" font-size="14.5" letter-spacing="2.95">J10</text>
<text class="t" transform="scale(0.73,1)" x="941.40" y="76" font-size="13" letter-spacing="2.14">MH0463</text>
</svg>
</body>
</html>
